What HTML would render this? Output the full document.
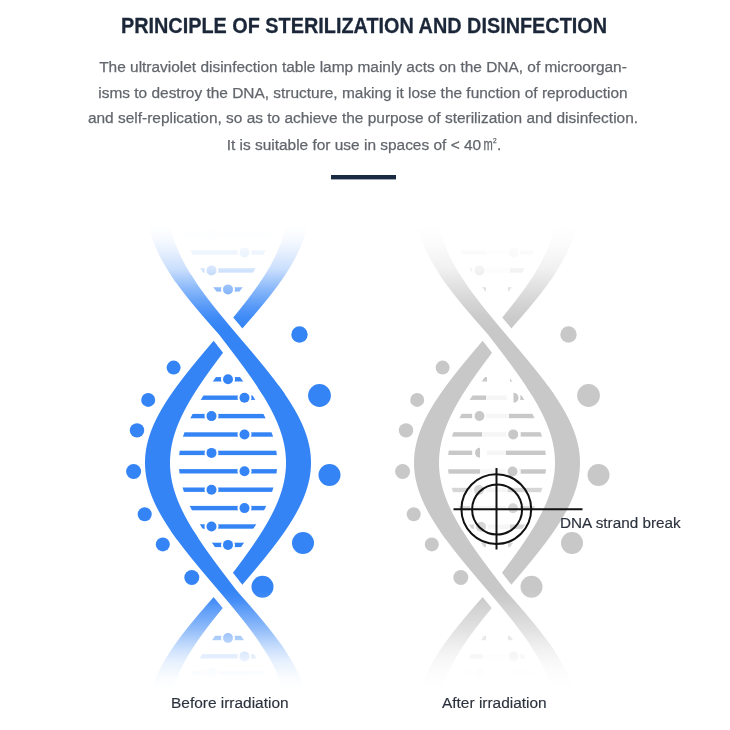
<!DOCTYPE html>
<html><head><meta charset="utf-8"><style>
html,body{margin:0;padding:0;background:#fff;}
body{width:730px;height:730px;position:relative;overflow:hidden;font-family:"Liberation Sans",sans-serif;}
.t{position:absolute;white-space:nowrap;left:0;width:730px;text-align:center;will-change:transform;}
#title{top:0.8px;left:-1px;font-weight:bold;font-size:19.85px;color:#1b2738;line-height:50px;transform:scaleY(1.07);transform-origin:50% 31.9px;-webkit-text-stroke:0.25px #1b2738;}
.p{font-size:15.45px;color:#62666c;line-height:20px;left:-2px;-webkit-text-stroke:0.25px #62666c;}
svg{position:absolute;left:0;top:0;}
.lab{position:absolute;white-space:nowrap;will-change:transform;font-size:15.45px;color:#2b323d;line-height:20px;-webkit-text-stroke:0.15px #2b323d;}
</style></head><body>
<svg width="730" height="730" viewBox="0 0 730 730">
<defs>
<linearGradient id="ft" gradientUnits="userSpaceOnUse" x1="0" y1="226" x2="0" y2="328">
<stop offset="0.0000" stop-color="#fff" stop-opacity="1.0000"/>
<stop offset="0.1373" stop-color="#fff" stop-opacity="0.9550"/>
<stop offset="0.2353" stop-color="#fff" stop-opacity="0.8900"/>
<stop offset="0.4216" stop-color="#fff" stop-opacity="0.7400"/>
<stop offset="0.6078" stop-color="#fff" stop-opacity="0.4400"/>
<stop offset="0.7745" stop-color="#fff" stop-opacity="0.2000"/>
<stop offset="0.9020" stop-color="#fff" stop-opacity="0.0500"/>
<stop offset="1.0000" stop-color="#fff" stop-opacity="0.0000"/>
</linearGradient>
<linearGradient id="fb" gradientUnits="userSpaceOnUse" x1="0" y1="590" x2="0" y2="690">
<stop offset="0.0000" stop-color="#fff" stop-opacity="0.0000"/>
<stop offset="0.1000" stop-color="#fff" stop-opacity="0.0700"/>
<stop offset="0.1700" stop-color="#fff" stop-opacity="0.1800"/>
<stop offset="0.3700" stop-color="#fff" stop-opacity="0.4300"/>
<stop offset="0.5400" stop-color="#fff" stop-opacity="0.6800"/>
<stop offset="0.6000" stop-color="#fff" stop-opacity="0.7600"/>
<stop offset="0.7000" stop-color="#fff" stop-opacity="0.8700"/>
<stop offset="0.8200" stop-color="#fff" stop-opacity="0.9500"/>
<stop offset="0.9200" stop-color="#fff" stop-opacity="0.9880"/>
<stop offset="1.0000" stop-color="#fff" stop-opacity="1.0000"/>
</linearGradient>
</defs>
<rect x="331" y="175" width="65" height="4.4" fill="#1a2a42"/>
<g opacity="0.3">
<rect x="161.71" y="232.40" width="132.59" height="4.4" fill="#3484f6"/>
<circle cx="211.50" cy="234.60" r="7.0" fill="#fff"/>
<circle cx="211.50" cy="234.60" r="5.0" fill="#3484f6"/>
</g>
<g opacity="0.6">
<rect x="168.47" y="250.20" width="119.07" height="4.4" fill="#3484f6"/>
<circle cx="244.50" cy="252.40" r="7.0" fill="#fff"/>
<circle cx="244.50" cy="252.40" r="5.0" fill="#3484f6"/>
</g>
<g opacity="0.8">
<rect x="178.16" y="268.20" width="99.67" height="4.4" fill="#3484f6"/>
<circle cx="211.50" cy="270.40" r="7.0" fill="#fff"/>
<circle cx="211.50" cy="270.40" r="5.0" fill="#3484f6"/>
</g>
<g opacity="0.92">
<rect x="191.01" y="287.20" width="73.98" height="4.4" fill="#3484f6"/>
<circle cx="228.00" cy="289.40" r="7.0" fill="#fff"/>
<circle cx="228.00" cy="289.40" r="5.0" fill="#3484f6"/>
</g>
<g opacity="1">
<rect x="192.83" y="377.10" width="70.33" height="4.4" fill="#3484f6"/>
<circle cx="228.00" cy="379.30" r="7.0" fill="#fff"/>
<circle cx="228.00" cy="379.30" r="5.0" fill="#3484f6"/>
</g>
<g opacity="1">
<rect x="180.23" y="395.50" width="95.54" height="4.4" fill="#3484f6"/>
<circle cx="244.50" cy="397.70" r="7.0" fill="#fff"/>
<circle cx="244.50" cy="397.70" r="5.0" fill="#3484f6"/>
</g>
<g opacity="1">
<rect x="169.74" y="413.90" width="116.52" height="4.4" fill="#3484f6"/>
<circle cx="211.50" cy="416.10" r="7.0" fill="#fff"/>
<circle cx="211.50" cy="416.10" r="5.0" fill="#3484f6"/>
</g>
<g opacity="1">
<rect x="162.14" y="432.30" width="131.73" height="4.4" fill="#3484f6"/>
<circle cx="244.50" cy="434.50" r="7.0" fill="#fff"/>
<circle cx="244.50" cy="434.50" r="5.0" fill="#3484f6"/>
</g>
<g opacity="1">
<rect x="158.07" y="450.70" width="139.85" height="4.4" fill="#3484f6"/>
<circle cx="211.50" cy="452.90" r="7.0" fill="#fff"/>
<circle cx="211.50" cy="452.90" r="5.0" fill="#3484f6"/>
</g>
<g opacity="1">
<rect x="157.93" y="469.10" width="140.14" height="4.4" fill="#3484f6"/>
<circle cx="244.50" cy="471.30" r="7.0" fill="#fff"/>
<circle cx="244.50" cy="471.30" r="5.0" fill="#3484f6"/>
</g>
<g opacity="1">
<rect x="161.73" y="487.50" width="132.55" height="4.4" fill="#3484f6"/>
<circle cx="211.50" cy="489.70" r="7.0" fill="#fff"/>
<circle cx="211.50" cy="489.70" r="5.0" fill="#3484f6"/>
</g>
<g opacity="1">
<rect x="169.10" y="505.90" width="117.80" height="4.4" fill="#3484f6"/>
<circle cx="244.50" cy="508.10" r="7.0" fill="#fff"/>
<circle cx="244.50" cy="508.10" r="5.0" fill="#3484f6"/>
</g>
<g opacity="1">
<rect x="179.41" y="524.30" width="97.18" height="4.4" fill="#3484f6"/>
<circle cx="211.50" cy="526.50" r="7.0" fill="#fff"/>
<circle cx="211.50" cy="526.50" r="5.0" fill="#3484f6"/>
</g>
<g opacity="1">
<rect x="191.89" y="542.70" width="72.22" height="4.4" fill="#3484f6"/>
<circle cx="228.00" cy="544.90" r="7.0" fill="#fff"/>
<circle cx="228.00" cy="544.90" r="5.0" fill="#3484f6"/>
</g>
<g opacity="1">
<rect x="189.62" y="635.80" width="76.76" height="4.4" fill="#3484f6"/>
<circle cx="228.00" cy="638.00" r="7.0" fill="#fff"/>
<circle cx="228.00" cy="638.00" r="5.0" fill="#3484f6"/>
</g>
<g opacity="0.8">
<rect x="177.38" y="654.20" width="101.25" height="4.4" fill="#3484f6"/>
<circle cx="244.50" cy="656.40" r="7.0" fill="#fff"/>
<circle cx="244.50" cy="656.40" r="5.0" fill="#3484f6"/>
</g>
<g opacity="0.45">
<rect x="168.51" y="670.80" width="118.98" height="4.4" fill="#3484f6"/>
<circle cx="211.50" cy="673.00" r="7.0" fill="#fff"/>
<circle cx="211.50" cy="673.00" r="5.0" fill="#3484f6"/>
</g>
<path d="M286.47,222.00 L286.13,224.00 L285.75,226.00 L285.32,228.00 L284.86,230.00 L284.36,232.00 L283.82,234.00 L283.24,236.00 L282.62,238.00 L281.96,240.00 L281.26,242.00 L280.53,244.00 L279.76,246.00 L278.96,248.00 L278.11,250.00 L277.24,252.00 L276.32,254.00 L275.38,256.00 L274.40,258.00 L273.38,260.00 L272.34,262.00 L271.26,264.00 L270.15,266.00 L269.01,268.00 L267.84,270.00 L266.64,272.00 L265.41,274.00 L264.15,276.00 L262.87,278.00 L261.56,280.00 L260.22,282.00 L258.86,284.00 L257.48,286.00 L256.07,288.00 L254.64,290.00 L253.19,292.00 L251.72,294.00 L250.23,296.00 L248.72,298.00 L247.19,300.00 L245.65,302.00 L244.09,304.00 L242.51,306.00 L240.92,308.00 L239.32,310.00 L237.71,312.00 L236.08,314.00 L234.44,316.00 L232.80,318.00 L231.15,320.00 L229.48,322.00 L227.82,324.00 L226.14,326.00 L224.47,328.00 L222.79,330.00 L221.10,332.00 L219.42,334.00 L217.72,336.00 L216.01,338.00 L214.30,340.00 L212.60,342.00 L210.89,344.00 L209.19,346.00 L207.50,348.00 L205.81,350.00 L204.12,352.00 L202.44,354.00 L200.76,356.00 L199.10,358.00 L197.44,360.00 L195.79,362.00 L194.15,364.00 L192.52,366.00 L190.90,368.00 L189.29,370.00 L187.70,372.00 L186.12,374.00 L184.56,376.00 L183.01,378.00 L181.47,380.00 L179.96,382.00 L178.46,384.00 L176.98,386.00 L175.53,388.00 L174.09,390.00 L172.68,392.00 L171.29,394.00 L169.92,396.00 L168.58,398.00 L167.27,400.00 L165.98,402.00 L164.73,404.00 L163.50,406.00 L162.30,408.00 L161.14,410.00 L160.01,412.00 L158.91,414.00 L157.85,416.00 L156.82,418.00 L155.83,420.00 L154.88,422.00 L153.96,424.00 L153.09,426.00 L152.26,428.00 L151.47,430.00 L150.72,432.00 L150.01,434.00 L149.35,436.00 L148.73,438.00 L148.16,440.00 L147.64,442.00 L147.16,444.00 L146.72,446.00 L146.34,448.00 L146.00,450.00 L145.71,452.00 L145.47,454.00 L145.28,456.00 L145.14,458.00 L145.05,460.00 L145.00,462.00 L145.01,464.00 L145.07,466.00 L145.17,468.00 L145.32,470.00 L145.53,472.00 L145.78,474.00 L146.08,476.00 L146.43,478.00 L146.83,480.00 L147.27,482.00 L147.76,484.00 L148.30,486.00 L148.88,488.00 L149.51,490.00 L150.19,492.00 L150.90,494.00 L151.66,496.00 L152.46,498.00 L153.31,500.00 L154.19,502.00 L155.11,504.00 L156.07,506.00 L157.07,508.00 L158.11,510.00 L159.18,512.00 L160.29,514.00 L161.43,516.00 L162.60,518.00 L163.80,520.00 L165.04,522.00 L166.30,524.00 L167.60,526.00 L168.92,528.00 L170.26,530.00 L171.63,532.00 L173.03,534.00 L174.45,536.00 L175.89,538.00 L177.35,540.00 L178.83,542.00 L180.34,544.00 L181.86,546.00 L183.39,548.00 L184.95,550.00 L186.52,552.00 L188.10,554.00 L189.70,556.00 L191.30,558.00 L192.93,560.00 L194.56,562.00 L196.20,564.00 L197.85,566.00 L199.51,568.00 L201.18,570.00 L202.86,572.00 L204.54,574.00 L206.23,576.00 L207.92,578.00 L209.62,580.00 L211.32,582.00 L213.02,584.00 L214.73,586.00 L216.44,588.00 L218.15,590.00 L219.84,592.00 L221.53,594.00 L223.21,596.00 L224.89,598.00 L226.56,600.00 L228.23,602.00 L229.90,604.00 L231.56,606.00 L233.21,608.00 L234.85,610.00 L236.49,612.00 L238.11,614.00 L239.72,616.00 L241.32,618.00 L242.91,620.00 L244.48,622.00 L246.04,624.00 L247.58,626.00 L249.10,628.00 L250.61,630.00 L252.09,632.00 L253.56,634.00 L255.00,636.00 L256.43,638.00 L257.83,640.00 L259.21,642.00 L260.56,644.00 L261.89,646.00 L263.19,648.00 L264.47,650.00 L265.72,652.00 L266.94,654.00 L268.13,656.00 L269.29,658.00 L270.43,660.00 L271.53,662.00 L272.60,664.00 L273.64,666.00 L274.64,668.00 L275.62,670.00 L276.56,672.00 L277.46,674.00 L278.33,676.00 L279.16,678.00 L279.96,680.00 L280.72,682.00 L281.44,684.00 L282.13,686.00 L282.78,688.00 L283.39,690.00 L304.66,690.00 L304.02,688.00 L303.34,686.00 L302.62,684.00 L301.86,682.00 L301.06,680.00 L300.22,678.00 L299.35,676.00 L298.44,674.00 L297.49,672.00 L296.50,670.00 L295.48,668.00 L294.42,666.00 L293.33,664.00 L292.20,662.00 L291.05,660.00 L289.86,658.00 L288.63,656.00 L287.38,654.00 L286.10,652.00 L284.78,650.00 L283.44,648.00 L282.07,646.00 L280.68,644.00 L279.25,642.00 L277.80,640.00 L276.33,638.00 L274.84,636.00 L273.32,634.00 L271.78,632.00 L270.21,630.00 L268.63,628.00 L267.03,626.00 L265.41,624.00 L263.78,622.00 L262.13,620.00 L260.46,618.00 L258.78,616.00 L257.08,614.00 L255.38,612.00 L253.66,610.00 L251.94,608.00 L250.20,606.00 L248.46,604.00 L246.70,602.00 L244.95,600.00 L243.19,598.00 L241.42,596.00 L239.65,594.00 L237.88,592.00 L236.23,590.00 L234.69,588.00 L233.16,586.00 L231.62,584.00 L230.09,582.00 L228.56,580.00 L227.03,578.00 L225.51,576.00 L223.99,574.00 L222.47,572.00 L220.96,570.00 L219.46,568.00 L217.96,566.00 L216.47,564.00 L214.99,562.00 L213.52,560.00 L212.06,558.00 L210.60,556.00 L209.16,554.00 L207.73,552.00 L206.32,550.00 L204.91,548.00 L203.52,546.00 L202.15,544.00 L200.79,542.00 L199.45,540.00 L198.12,538.00 L196.82,536.00 L195.53,534.00 L194.26,532.00 L193.02,530.00 L191.80,528.00 L190.60,526.00 L189.42,524.00 L188.27,522.00 L187.15,520.00 L186.06,518.00 L184.99,516.00 L183.95,514.00 L182.95,512.00 L181.97,510.00 L181.03,508.00 L180.11,506.00 L179.24,504.00 L178.40,502.00 L177.59,500.00 L176.82,498.00 L176.09,496.00 L175.40,494.00 L174.74,492.00 L174.13,490.00 L173.55,488.00 L173.02,486.00 L172.53,484.00 L172.08,482.00 L171.67,480.00 L171.31,478.00 L170.99,476.00 L170.71,474.00 L170.48,472.00 L170.30,470.00 L170.16,468.00 L170.06,466.00 L170.01,464.00 L170.00,462.00 L170.04,460.00 L170.13,458.00 L170.26,456.00 L170.43,454.00 L170.65,452.00 L170.92,450.00 L171.22,448.00 L171.58,446.00 L171.97,444.00 L172.41,442.00 L172.89,440.00 L173.41,438.00 L173.98,436.00 L174.58,434.00 L175.23,432.00 L175.91,430.00 L176.63,428.00 L177.39,426.00 L178.19,424.00 L179.02,422.00 L179.89,420.00 L180.79,418.00 L181.73,416.00 L182.70,414.00 L183.70,412.00 L184.73,410.00 L185.79,408.00 L186.88,406.00 L187.99,404.00 L189.13,402.00 L190.30,400.00 L191.49,398.00 L192.71,396.00 L193.95,394.00 L195.21,392.00 L196.49,390.00 L197.79,388.00 L199.11,386.00 L200.45,384.00 L201.81,382.00 L203.18,380.00 L204.56,378.00 L205.96,376.00 L207.38,374.00 L208.80,372.00 L210.24,370.00 L211.69,368.00 L213.15,366.00 L214.62,364.00 L216.10,362.00 L217.59,360.00 L219.08,358.00 L220.59,356.00 L222.09,354.00 L223.61,352.00 L225.13,350.00 L226.65,348.00 L228.18,346.00 L229.71,344.00 L231.24,342.00 L232.77,340.00 L234.31,338.00 L235.85,336.00 L237.44,334.00 L239.21,332.00 L240.98,330.00 L242.75,328.00 L244.51,326.00 L246.27,324.00 L248.02,322.00 L249.76,320.00 L251.50,318.00 L253.23,316.00 L254.95,314.00 L256.66,312.00 L258.36,310.00 L260.04,308.00 L261.71,306.00 L263.37,304.00 L265.01,302.00 L266.63,300.00 L268.23,298.00 L269.82,296.00 L271.39,294.00 L272.93,292.00 L274.46,290.00 L275.96,288.00 L277.44,286.00 L278.89,284.00 L280.32,282.00 L281.73,280.00 L283.10,278.00 L284.45,276.00 L285.77,274.00 L287.06,272.00 L288.32,270.00 L289.55,268.00 L290.75,266.00 L291.92,264.00 L293.05,262.00 L294.15,260.00 L295.22,258.00 L296.25,256.00 L297.24,254.00 L298.20,252.00 L299.12,250.00 L300.01,248.00 L300.86,246.00 L301.66,244.00 L302.43,242.00 L303.16,240.00 L303.86,238.00 L304.51,236.00 L305.12,234.00 L305.69,232.00 L306.21,230.00 L306.70,228.00 L307.15,226.00 L307.55,224.00 L307.91,222.00Z" fill="none" stroke="#fff" stroke-width="17.6" stroke-linejoin="round"/>
<path d="M148.09,222.00 L148.45,224.00 L148.85,226.00 L149.30,228.00 L149.79,230.00 L150.31,232.00 L150.88,234.00 L151.49,236.00 L152.14,238.00 L152.84,240.00 L153.57,242.00 L154.34,244.00 L155.14,246.00 L155.99,248.00 L156.88,250.00 L157.80,252.00 L158.76,254.00 L159.75,256.00 L160.78,258.00 L161.85,260.00 L162.95,262.00 L164.08,264.00 L165.25,266.00 L166.45,268.00 L167.68,270.00 L168.94,272.00 L170.23,274.00 L171.55,276.00 L172.90,278.00 L174.27,280.00 L175.68,282.00 L177.11,284.00 L178.56,286.00 L180.04,288.00 L181.54,290.00 L183.07,292.00 L184.61,294.00 L186.18,296.00 L187.77,298.00 L189.37,300.00 L190.99,302.00 L192.63,304.00 L194.29,306.00 L195.96,308.00 L197.64,310.00 L199.34,312.00 L201.05,314.00 L202.77,316.00 L204.50,318.00 L206.24,320.00 L207.98,322.00 L209.73,324.00 L211.49,326.00 L213.25,328.00 L215.02,330.00 L216.79,332.00 L218.56,334.00 L220.15,336.00 L221.69,338.00 L223.23,340.00 L224.76,342.00 L226.29,344.00 L227.82,346.00 L229.35,348.00 L230.87,350.00 L232.39,352.00 L233.91,354.00 L235.41,356.00 L236.92,358.00 L238.41,360.00 L239.90,362.00 L241.38,364.00 L242.85,366.00 L244.31,368.00 L245.76,370.00 L247.20,372.00 L248.62,374.00 L250.04,376.00 L251.44,378.00 L252.82,380.00 L254.19,382.00 L255.55,384.00 L256.89,386.00 L258.21,388.00 L259.51,390.00 L260.79,392.00 L262.05,394.00 L263.29,396.00 L264.51,398.00 L265.70,400.00 L266.87,402.00 L268.01,404.00 L269.12,406.00 L270.21,408.00 L271.27,410.00 L272.30,412.00 L273.30,414.00 L274.27,416.00 L275.21,418.00 L276.11,420.00 L276.98,422.00 L277.81,424.00 L278.61,426.00 L279.37,428.00 L280.09,430.00 L280.77,432.00 L281.42,434.00 L282.02,436.00 L282.59,438.00 L283.11,440.00 L283.59,442.00 L284.03,444.00 L284.42,446.00 L284.78,448.00 L285.08,450.00 L285.35,452.00 L285.57,454.00 L285.74,456.00 L285.87,458.00 L285.96,460.00 L286.00,462.00 L285.99,464.00 L285.94,466.00 L285.84,468.00 L285.70,470.00 L285.52,472.00 L285.29,474.00 L285.01,476.00 L284.69,478.00 L284.33,480.00 L283.92,482.00 L283.47,484.00 L282.98,486.00 L282.45,488.00 L281.87,490.00 L281.26,492.00 L280.60,494.00 L279.91,496.00 L279.18,498.00 L278.41,500.00 L277.60,502.00 L276.76,504.00 L275.89,506.00 L274.97,508.00 L274.03,510.00 L273.05,512.00 L272.05,514.00 L271.01,516.00 L269.94,518.00 L268.85,520.00 L267.73,522.00 L266.58,524.00 L265.40,526.00 L264.20,528.00 L262.98,530.00 L261.74,532.00 L260.47,534.00 L259.18,536.00 L257.88,538.00 L256.55,540.00 L255.21,542.00 L253.85,544.00 L252.48,546.00 L251.09,548.00 L249.68,550.00 L248.27,552.00 L246.84,554.00 L245.40,556.00 L243.94,558.00 L242.48,560.00 L241.01,562.00 L239.53,564.00 L238.04,566.00 L236.54,568.00 L235.04,570.00 L233.53,572.00 L232.01,574.00 L230.49,576.00 L228.97,578.00 L227.44,580.00 L225.91,582.00 L224.38,584.00 L222.84,586.00 L221.31,588.00 L219.77,590.00 L218.12,592.00 L216.35,594.00 L214.58,596.00 L212.81,598.00 L211.05,600.00 L209.30,602.00 L207.54,604.00 L205.80,606.00 L204.06,608.00 L202.34,610.00 L200.62,612.00 L198.92,614.00 L197.22,616.00 L195.54,618.00 L193.87,620.00 L192.22,622.00 L190.59,624.00 L188.97,626.00 L187.37,628.00 L185.79,630.00 L184.22,632.00 L182.68,634.00 L181.16,636.00 L179.67,638.00 L178.20,640.00 L176.75,642.00 L175.32,644.00 L173.93,646.00 L172.56,648.00 L171.22,650.00 L169.90,652.00 L168.62,654.00 L167.37,656.00 L166.14,658.00 L164.95,660.00 L163.80,662.00 L162.67,664.00 L161.58,666.00 L160.52,668.00 L159.50,670.00 L158.51,672.00 L157.56,674.00 L156.65,676.00 L155.78,678.00 L154.94,680.00 L154.14,682.00 L153.38,684.00 L152.66,686.00 L151.98,688.00 L151.34,690.00 L172.61,690.00 L173.22,688.00 L173.87,686.00 L174.56,684.00 L175.28,682.00 L176.04,680.00 L176.84,678.00 L177.67,676.00 L178.54,674.00 L179.44,672.00 L180.38,670.00 L181.36,668.00 L182.36,666.00 L183.40,664.00 L184.47,662.00 L185.57,660.00 L186.71,658.00 L187.87,656.00 L189.06,654.00 L190.28,652.00 L191.53,650.00 L192.81,648.00 L194.11,646.00 L195.44,644.00 L196.79,642.00 L198.17,640.00 L199.57,638.00 L201.00,636.00 L202.44,634.00 L203.91,632.00 L205.39,630.00 L206.90,628.00 L208.42,626.00 L209.96,624.00 L211.52,622.00 L213.09,620.00 L214.68,618.00 L216.28,616.00 L217.89,614.00 L219.51,612.00 L221.15,610.00 L222.79,608.00 L224.44,606.00 L226.10,604.00 L227.77,602.00 L229.44,600.00 L231.11,598.00 L232.79,596.00 L234.47,594.00 L236.16,592.00 L237.85,590.00 L239.56,588.00 L241.27,586.00 L242.98,584.00 L244.68,582.00 L246.38,580.00 L248.08,578.00 L249.77,576.00 L251.46,574.00 L253.14,572.00 L254.82,570.00 L256.49,568.00 L258.15,566.00 L259.80,564.00 L261.44,562.00 L263.07,560.00 L264.70,558.00 L266.30,556.00 L267.90,554.00 L269.48,552.00 L271.05,550.00 L272.61,548.00 L274.14,546.00 L275.66,544.00 L277.17,542.00 L278.65,540.00 L280.11,538.00 L281.55,536.00 L282.97,534.00 L284.37,532.00 L285.74,530.00 L287.08,528.00 L288.40,526.00 L289.70,524.00 L290.96,522.00 L292.20,520.00 L293.40,518.00 L294.57,516.00 L295.71,514.00 L296.82,512.00 L297.89,510.00 L298.93,508.00 L299.93,506.00 L300.89,504.00 L301.81,502.00 L302.69,500.00 L303.54,498.00 L304.34,496.00 L305.10,494.00 L305.81,492.00 L306.49,490.00 L307.12,488.00 L307.70,486.00 L308.24,484.00 L308.73,482.00 L309.17,480.00 L309.57,478.00 L309.92,476.00 L310.22,474.00 L310.47,472.00 L310.68,470.00 L310.83,468.00 L310.93,466.00 L310.99,464.00 L311.00,462.00 L310.95,460.00 L310.86,458.00 L310.72,456.00 L310.53,454.00 L310.29,452.00 L310.00,450.00 L309.66,448.00 L309.28,446.00 L308.84,444.00 L308.36,442.00 L307.84,440.00 L307.27,438.00 L306.65,436.00 L305.99,434.00 L305.28,432.00 L304.53,430.00 L303.74,428.00 L302.91,426.00 L302.04,424.00 L301.12,422.00 L300.17,420.00 L299.18,418.00 L298.15,416.00 L297.09,414.00 L295.99,412.00 L294.86,410.00 L293.70,408.00 L292.50,406.00 L291.27,404.00 L290.02,402.00 L288.73,400.00 L287.42,398.00 L286.08,396.00 L284.71,394.00 L283.32,392.00 L281.91,390.00 L280.47,388.00 L279.02,386.00 L277.54,384.00 L276.04,382.00 L274.53,380.00 L272.99,378.00 L271.44,376.00 L269.88,374.00 L268.30,372.00 L266.71,370.00 L265.10,368.00 L263.48,366.00 L261.85,364.00 L260.21,362.00 L258.56,360.00 L256.90,358.00 L255.24,356.00 L253.56,354.00 L251.88,352.00 L250.19,350.00 L248.50,348.00 L246.81,346.00 L245.11,344.00 L243.40,342.00 L241.70,340.00 L239.99,338.00 L238.28,336.00 L236.58,334.00 L234.90,332.00 L233.21,330.00 L231.53,328.00 L229.86,326.00 L228.18,324.00 L226.52,322.00 L224.85,320.00 L223.20,318.00 L221.56,316.00 L219.92,314.00 L218.29,312.00 L216.68,310.00 L215.08,308.00 L213.49,306.00 L211.91,304.00 L210.35,302.00 L208.81,300.00 L207.28,298.00 L205.77,296.00 L204.28,294.00 L202.81,292.00 L201.36,290.00 L199.93,288.00 L198.52,286.00 L197.14,284.00 L195.78,282.00 L194.44,280.00 L193.13,278.00 L191.85,276.00 L190.59,274.00 L189.36,272.00 L188.16,270.00 L186.99,268.00 L185.85,266.00 L184.74,264.00 L183.66,262.00 L182.62,260.00 L181.60,258.00 L180.62,256.00 L179.68,254.00 L178.76,252.00 L177.89,250.00 L177.04,248.00 L176.24,246.00 L175.47,244.00 L174.74,242.00 L174.04,240.00 L173.38,238.00 L172.76,236.00 L172.18,234.00 L171.64,232.00 L171.14,230.00 L170.68,228.00 L170.25,226.00 L169.87,224.00 L169.53,222.00Z" fill="none" stroke="#fff" stroke-width="17.6" stroke-linejoin="round"/>
<path d="M286.47,222.00 L286.13,224.00 L285.75,226.00 L285.32,228.00 L284.86,230.00 L284.36,232.00 L283.82,234.00 L283.24,236.00 L282.62,238.00 L281.96,240.00 L281.26,242.00 L280.53,244.00 L279.76,246.00 L278.96,248.00 L278.11,250.00 L277.24,252.00 L276.32,254.00 L275.38,256.00 L274.40,258.00 L273.38,260.00 L272.34,262.00 L271.26,264.00 L270.15,266.00 L269.01,268.00 L267.84,270.00 L266.64,272.00 L265.41,274.00 L264.15,276.00 L262.87,278.00 L261.56,280.00 L260.22,282.00 L258.86,284.00 L257.48,286.00 L256.07,288.00 L254.64,290.00 L253.19,292.00 L251.72,294.00 L250.23,296.00 L248.72,298.00 L247.19,300.00 L245.65,302.00 L244.09,304.00 L242.51,306.00 L240.92,308.00 L239.32,310.00 L237.71,312.00 L236.08,314.00 L234.44,316.00 L232.80,318.00 L231.15,320.00 L229.48,322.00 L227.82,324.00 L226.14,326.00 L224.47,328.00 L222.79,330.00 L221.10,332.00 L219.42,334.00 L237.44,334.00 L239.21,332.00 L240.98,330.00 L242.75,328.00 L244.51,326.00 L246.27,324.00 L248.02,322.00 L249.76,320.00 L251.50,318.00 L253.23,316.00 L254.95,314.00 L256.66,312.00 L258.36,310.00 L260.04,308.00 L261.71,306.00 L263.37,304.00 L265.01,302.00 L266.63,300.00 L268.23,298.00 L269.82,296.00 L271.39,294.00 L272.93,292.00 L274.46,290.00 L275.96,288.00 L277.44,286.00 L278.89,284.00 L280.32,282.00 L281.73,280.00 L283.10,278.00 L284.45,276.00 L285.77,274.00 L287.06,272.00 L288.32,270.00 L289.55,268.00 L290.75,266.00 L291.92,264.00 L293.05,262.00 L294.15,260.00 L295.22,258.00 L296.25,256.00 L297.24,254.00 L298.20,252.00 L299.12,250.00 L300.01,248.00 L300.86,246.00 L301.66,244.00 L302.43,242.00 L303.16,240.00 L303.86,238.00 L304.51,236.00 L305.12,234.00 L305.69,232.00 L306.21,230.00 L306.70,228.00 L307.15,226.00 L307.55,224.00 L307.91,222.00Z" fill="none" stroke="#fff" stroke-width="22.6" stroke-linejoin="round"/>
<path d="M219.00,591.00 L220.68,593.00 L222.37,595.00 L224.05,597.00 L225.73,599.00 L227.40,601.00 L229.07,603.00 L230.73,605.00 L232.39,607.00 L234.03,609.00 L235.67,611.00 L237.30,613.00 L238.92,615.00 L240.53,617.00 L242.12,619.00 L243.70,621.00 L245.26,623.00 L246.81,625.00 L248.34,627.00 L249.85,629.00 L251.35,631.00 L252.83,633.00 L254.28,635.00 L255.72,637.00 L257.13,639.00 L258.52,641.00 L259.89,643.00 L261.23,645.00 L262.54,647.00 L263.83,649.00 L265.10,651.00 L266.33,653.00 L267.54,655.00 L268.72,657.00 L269.87,659.00 L270.98,661.00 L272.07,663.00 L273.12,665.00 L274.15,667.00 L275.13,669.00 L276.09,671.00 L277.01,673.00 L277.90,675.00 L278.75,677.00 L279.56,679.00 L280.34,681.00 L281.08,683.00 L281.79,685.00 L282.46,687.00 L283.09,689.00 L304.35,689.00 L303.69,687.00 L302.99,685.00 L302.25,683.00 L301.47,681.00 L300.65,679.00 L299.79,677.00 L298.90,675.00 L297.96,673.00 L297.00,671.00 L295.99,669.00 L294.95,667.00 L293.88,665.00 L292.77,663.00 L291.63,661.00 L290.45,659.00 L289.25,657.00 L288.01,655.00 L286.74,653.00 L285.44,651.00 L284.12,649.00 L282.76,647.00 L281.38,645.00 L279.97,643.00 L278.53,641.00 L277.07,639.00 L275.59,637.00 L274.08,635.00 L272.55,633.00 L271.00,631.00 L269.43,629.00 L267.83,627.00 L266.22,625.00 L264.60,623.00 L262.95,621.00 L261.29,619.00 L259.62,617.00 L257.93,615.00 L256.23,613.00 L254.52,611.00 L252.80,609.00 L251.07,607.00 L249.33,605.00 L247.58,603.00 L245.83,601.00 L244.07,599.00 L242.30,597.00 L240.54,595.00 L238.77,593.00 L237.00,591.00Z" fill="none" stroke="#fff" stroke-width="22.6" stroke-linejoin="round"/>
<path d="M148.09,222.00 L148.45,224.00 L148.85,226.00 L149.30,228.00 L149.79,230.00 L150.31,232.00 L150.88,234.00 L151.49,236.00 L152.14,238.00 L152.84,240.00 L153.57,242.00 L154.34,244.00 L155.14,246.00 L155.99,248.00 L156.88,250.00 L157.80,252.00 L158.76,254.00 L159.75,256.00 L160.78,258.00 L161.85,260.00 L162.95,262.00 L164.08,264.00 L165.25,266.00 L166.45,268.00 L167.68,270.00 L168.94,272.00 L170.23,274.00 L171.55,276.00 L172.90,278.00 L174.27,280.00 L175.68,282.00 L177.11,284.00 L178.56,286.00 L180.04,288.00 L181.54,290.00 L183.07,292.00 L184.61,294.00 L186.18,296.00 L187.77,298.00 L189.37,300.00 L190.99,302.00 L192.63,304.00 L194.29,306.00 L195.96,308.00 L197.64,310.00 L199.34,312.00 L201.05,314.00 L202.77,316.00 L204.50,318.00 L206.24,320.00 L207.98,322.00 L209.73,324.00 L211.49,326.00 L213.25,328.00 L215.02,330.00 L216.79,332.00 L218.56,334.00 L236.58,334.00 L234.90,332.00 L233.21,330.00 L231.53,328.00 L229.86,326.00 L228.18,324.00 L226.52,322.00 L224.85,320.00 L223.20,318.00 L221.56,316.00 L219.92,314.00 L218.29,312.00 L216.68,310.00 L215.08,308.00 L213.49,306.00 L211.91,304.00 L210.35,302.00 L208.81,300.00 L207.28,298.00 L205.77,296.00 L204.28,294.00 L202.81,292.00 L201.36,290.00 L199.93,288.00 L198.52,286.00 L197.14,284.00 L195.78,282.00 L194.44,280.00 L193.13,278.00 L191.85,276.00 L190.59,274.00 L189.36,272.00 L188.16,270.00 L186.99,268.00 L185.85,266.00 L184.74,264.00 L183.66,262.00 L182.62,260.00 L181.60,258.00 L180.62,256.00 L179.68,254.00 L178.76,252.00 L177.89,250.00 L177.04,248.00 L176.24,246.00 L175.47,244.00 L174.74,242.00 L174.04,240.00 L173.38,238.00 L172.76,236.00 L172.18,234.00 L171.64,232.00 L171.14,230.00 L170.68,228.00 L170.25,226.00 L169.87,224.00 L169.53,222.00Z" fill="none" stroke="#fff" stroke-width="22.6" stroke-linejoin="round"/>
<path d="M219.00,591.00 L217.23,593.00 L215.46,595.00 L213.70,597.00 L211.93,599.00 L210.17,601.00 L208.42,603.00 L206.67,605.00 L204.93,607.00 L203.20,609.00 L201.48,611.00 L199.77,613.00 L198.07,615.00 L196.38,617.00 L194.71,619.00 L193.05,621.00 L191.40,623.00 L189.78,625.00 L188.17,627.00 L186.57,629.00 L185.00,631.00 L183.45,633.00 L181.92,635.00 L180.41,637.00 L178.93,639.00 L177.47,641.00 L176.03,643.00 L174.62,645.00 L173.24,647.00 L171.88,649.00 L170.56,651.00 L169.26,653.00 L167.99,655.00 L166.75,657.00 L165.55,659.00 L164.37,661.00 L163.23,663.00 L162.12,665.00 L161.05,667.00 L160.01,669.00 L159.00,671.00 L158.04,673.00 L157.10,675.00 L156.21,677.00 L155.35,679.00 L154.53,681.00 L153.75,683.00 L153.01,685.00 L152.31,687.00 L151.65,689.00 L172.91,689.00 L173.54,687.00 L174.21,685.00 L174.92,683.00 L175.66,681.00 L176.44,679.00 L177.25,677.00 L178.10,675.00 L178.99,673.00 L179.91,671.00 L180.87,669.00 L181.85,667.00 L182.88,665.00 L183.93,663.00 L185.02,661.00 L186.13,659.00 L187.28,657.00 L188.46,655.00 L189.67,653.00 L190.90,651.00 L192.17,649.00 L193.46,647.00 L194.77,645.00 L196.11,643.00 L197.48,641.00 L198.87,639.00 L200.28,637.00 L201.72,635.00 L203.17,633.00 L204.65,631.00 L206.15,629.00 L207.66,627.00 L209.19,625.00 L210.74,623.00 L212.30,621.00 L213.88,619.00 L215.47,617.00 L217.08,615.00 L218.70,613.00 L220.33,611.00 L221.97,609.00 L223.61,607.00 L225.27,605.00 L226.93,603.00 L228.60,601.00 L230.27,599.00 L231.95,597.00 L233.63,595.00 L235.32,593.00 L237.00,591.00Z" fill="none" stroke="#fff" stroke-width="22.6" stroke-linejoin="round"/>
<path d="M286.47,222.00 L286.13,224.00 L285.75,226.00 L285.32,228.00 L284.86,230.00 L284.36,232.00 L283.82,234.00 L283.24,236.00 L282.62,238.00 L281.96,240.00 L281.26,242.00 L280.53,244.00 L279.76,246.00 L278.96,248.00 L278.11,250.00 L277.24,252.00 L276.32,254.00 L275.38,256.00 L274.40,258.00 L273.38,260.00 L272.34,262.00 L271.26,264.00 L270.15,266.00 L269.01,268.00 L267.84,270.00 L266.64,272.00 L265.41,274.00 L264.15,276.00 L262.87,278.00 L261.56,280.00 L260.22,282.00 L258.86,284.00 L257.48,286.00 L256.07,288.00 L254.64,290.00 L253.19,292.00 L251.72,294.00 L250.23,296.00 L248.72,298.00 L247.19,300.00 L245.65,302.00 L244.09,304.00 L242.51,306.00 L240.92,308.00 L239.32,310.00 L237.71,312.00 L236.08,314.00 L234.44,316.00 L232.80,318.00 L231.15,320.00 L229.48,322.00 L227.82,324.00 L226.14,326.00 L224.47,328.00 L222.79,330.00 L221.10,332.00 L219.42,334.00 L217.72,336.00 L216.01,338.00 L214.30,340.00 L212.60,342.00 L210.89,344.00 L209.19,346.00 L207.50,348.00 L205.81,350.00 L204.12,352.00 L202.44,354.00 L200.76,356.00 L199.10,358.00 L197.44,360.00 L195.79,362.00 L194.15,364.00 L192.52,366.00 L190.90,368.00 L189.29,370.00 L187.70,372.00 L186.12,374.00 L184.56,376.00 L183.01,378.00 L181.47,380.00 L179.96,382.00 L178.46,384.00 L176.98,386.00 L175.53,388.00 L174.09,390.00 L172.68,392.00 L171.29,394.00 L169.92,396.00 L168.58,398.00 L167.27,400.00 L165.98,402.00 L164.73,404.00 L163.50,406.00 L162.30,408.00 L161.14,410.00 L160.01,412.00 L158.91,414.00 L157.85,416.00 L156.82,418.00 L155.83,420.00 L154.88,422.00 L153.96,424.00 L153.09,426.00 L152.26,428.00 L151.47,430.00 L150.72,432.00 L150.01,434.00 L149.35,436.00 L148.73,438.00 L148.16,440.00 L147.64,442.00 L147.16,444.00 L146.72,446.00 L146.34,448.00 L146.00,450.00 L145.71,452.00 L145.47,454.00 L145.28,456.00 L145.14,458.00 L145.05,460.00 L145.00,462.00 L145.01,464.00 L145.07,466.00 L145.17,468.00 L145.32,470.00 L145.53,472.00 L145.78,474.00 L146.08,476.00 L146.43,478.00 L146.83,480.00 L147.27,482.00 L147.76,484.00 L148.30,486.00 L148.88,488.00 L149.51,490.00 L150.19,492.00 L150.90,494.00 L151.66,496.00 L152.46,498.00 L153.31,500.00 L154.19,502.00 L155.11,504.00 L156.07,506.00 L157.07,508.00 L158.11,510.00 L159.18,512.00 L160.29,514.00 L161.43,516.00 L162.60,518.00 L163.80,520.00 L165.04,522.00 L166.30,524.00 L167.60,526.00 L168.92,528.00 L170.26,530.00 L171.63,532.00 L173.03,534.00 L174.45,536.00 L175.89,538.00 L177.35,540.00 L178.83,542.00 L180.34,544.00 L181.86,546.00 L183.39,548.00 L184.95,550.00 L186.52,552.00 L188.10,554.00 L189.70,556.00 L191.30,558.00 L192.93,560.00 L194.56,562.00 L196.20,564.00 L197.85,566.00 L199.51,568.00 L201.18,570.00 L202.86,572.00 L204.54,574.00 L206.23,576.00 L207.92,578.00 L209.62,580.00 L211.32,582.00 L213.02,584.00 L214.73,586.00 L216.44,588.00 L218.15,590.00 L219.84,592.00 L221.53,594.00 L223.21,596.00 L224.89,598.00 L226.56,600.00 L228.23,602.00 L229.90,604.00 L231.56,606.00 L233.21,608.00 L234.85,610.00 L236.49,612.00 L238.11,614.00 L239.72,616.00 L241.32,618.00 L242.91,620.00 L244.48,622.00 L246.04,624.00 L247.58,626.00 L249.10,628.00 L250.61,630.00 L252.09,632.00 L253.56,634.00 L255.00,636.00 L256.43,638.00 L257.83,640.00 L259.21,642.00 L260.56,644.00 L261.89,646.00 L263.19,648.00 L264.47,650.00 L265.72,652.00 L266.94,654.00 L268.13,656.00 L269.29,658.00 L270.43,660.00 L271.53,662.00 L272.60,664.00 L273.64,666.00 L274.64,668.00 L275.62,670.00 L276.56,672.00 L277.46,674.00 L278.33,676.00 L279.16,678.00 L279.96,680.00 L280.72,682.00 L281.44,684.00 L282.13,686.00 L282.78,688.00 L283.39,690.00 L304.66,690.00 L304.02,688.00 L303.34,686.00 L302.62,684.00 L301.86,682.00 L301.06,680.00 L300.22,678.00 L299.35,676.00 L298.44,674.00 L297.49,672.00 L296.50,670.00 L295.48,668.00 L294.42,666.00 L293.33,664.00 L292.20,662.00 L291.05,660.00 L289.86,658.00 L288.63,656.00 L287.38,654.00 L286.10,652.00 L284.78,650.00 L283.44,648.00 L282.07,646.00 L280.68,644.00 L279.25,642.00 L277.80,640.00 L276.33,638.00 L274.84,636.00 L273.32,634.00 L271.78,632.00 L270.21,630.00 L268.63,628.00 L267.03,626.00 L265.41,624.00 L263.78,622.00 L262.13,620.00 L260.46,618.00 L258.78,616.00 L257.08,614.00 L255.38,612.00 L253.66,610.00 L251.94,608.00 L250.20,606.00 L248.46,604.00 L246.70,602.00 L244.95,600.00 L243.19,598.00 L241.42,596.00 L239.65,594.00 L237.88,592.00 L236.23,590.00 L234.69,588.00 L233.16,586.00 L231.62,584.00 L230.09,582.00 L228.56,580.00 L227.03,578.00 L225.51,576.00 L223.99,574.00 L222.47,572.00 L220.96,570.00 L219.46,568.00 L217.96,566.00 L216.47,564.00 L214.99,562.00 L213.52,560.00 L212.06,558.00 L210.60,556.00 L209.16,554.00 L207.73,552.00 L206.32,550.00 L204.91,548.00 L203.52,546.00 L202.15,544.00 L200.79,542.00 L199.45,540.00 L198.12,538.00 L196.82,536.00 L195.53,534.00 L194.26,532.00 L193.02,530.00 L191.80,528.00 L190.60,526.00 L189.42,524.00 L188.27,522.00 L187.15,520.00 L186.06,518.00 L184.99,516.00 L183.95,514.00 L182.95,512.00 L181.97,510.00 L181.03,508.00 L180.11,506.00 L179.24,504.00 L178.40,502.00 L177.59,500.00 L176.82,498.00 L176.09,496.00 L175.40,494.00 L174.74,492.00 L174.13,490.00 L173.55,488.00 L173.02,486.00 L172.53,484.00 L172.08,482.00 L171.67,480.00 L171.31,478.00 L170.99,476.00 L170.71,474.00 L170.48,472.00 L170.30,470.00 L170.16,468.00 L170.06,466.00 L170.01,464.00 L170.00,462.00 L170.04,460.00 L170.13,458.00 L170.26,456.00 L170.43,454.00 L170.65,452.00 L170.92,450.00 L171.22,448.00 L171.58,446.00 L171.97,444.00 L172.41,442.00 L172.89,440.00 L173.41,438.00 L173.98,436.00 L174.58,434.00 L175.23,432.00 L175.91,430.00 L176.63,428.00 L177.39,426.00 L178.19,424.00 L179.02,422.00 L179.89,420.00 L180.79,418.00 L181.73,416.00 L182.70,414.00 L183.70,412.00 L184.73,410.00 L185.79,408.00 L186.88,406.00 L187.99,404.00 L189.13,402.00 L190.30,400.00 L191.49,398.00 L192.71,396.00 L193.95,394.00 L195.21,392.00 L196.49,390.00 L197.79,388.00 L199.11,386.00 L200.45,384.00 L201.81,382.00 L203.18,380.00 L204.56,378.00 L205.96,376.00 L207.38,374.00 L208.80,372.00 L210.24,370.00 L211.69,368.00 L213.15,366.00 L214.62,364.00 L216.10,362.00 L217.59,360.00 L219.08,358.00 L220.59,356.00 L222.09,354.00 L223.61,352.00 L225.13,350.00 L226.65,348.00 L228.18,346.00 L229.71,344.00 L231.24,342.00 L232.77,340.00 L234.31,338.00 L235.85,336.00 L237.44,334.00 L239.21,332.00 L240.98,330.00 L242.75,328.00 L244.51,326.00 L246.27,324.00 L248.02,322.00 L249.76,320.00 L251.50,318.00 L253.23,316.00 L254.95,314.00 L256.66,312.00 L258.36,310.00 L260.04,308.00 L261.71,306.00 L263.37,304.00 L265.01,302.00 L266.63,300.00 L268.23,298.00 L269.82,296.00 L271.39,294.00 L272.93,292.00 L274.46,290.00 L275.96,288.00 L277.44,286.00 L278.89,284.00 L280.32,282.00 L281.73,280.00 L283.10,278.00 L284.45,276.00 L285.77,274.00 L287.06,272.00 L288.32,270.00 L289.55,268.00 L290.75,266.00 L291.92,264.00 L293.05,262.00 L294.15,260.00 L295.22,258.00 L296.25,256.00 L297.24,254.00 L298.20,252.00 L299.12,250.00 L300.01,248.00 L300.86,246.00 L301.66,244.00 L302.43,242.00 L303.16,240.00 L303.86,238.00 L304.51,236.00 L305.12,234.00 L305.69,232.00 L306.21,230.00 L306.70,228.00 L307.15,226.00 L307.55,224.00 L307.91,222.00Z" fill="#3484f6"/>
<path d="M148.09,222.00 L148.45,224.00 L148.85,226.00 L149.30,228.00 L149.79,230.00 L150.31,232.00 L150.88,234.00 L151.49,236.00 L152.14,238.00 L152.84,240.00 L153.57,242.00 L154.34,244.00 L155.14,246.00 L155.99,248.00 L156.88,250.00 L157.80,252.00 L158.76,254.00 L159.75,256.00 L160.78,258.00 L161.85,260.00 L162.95,262.00 L164.08,264.00 L165.25,266.00 L166.45,268.00 L167.68,270.00 L168.94,272.00 L170.23,274.00 L171.55,276.00 L172.90,278.00 L174.27,280.00 L175.68,282.00 L177.11,284.00 L178.56,286.00 L180.04,288.00 L181.54,290.00 L183.07,292.00 L184.61,294.00 L186.18,296.00 L187.77,298.00 L189.37,300.00 L190.99,302.00 L192.63,304.00 L194.29,306.00 L195.96,308.00 L197.64,310.00 L199.34,312.00 L201.05,314.00 L202.77,316.00 L204.50,318.00 L206.24,320.00 L207.98,322.00 L209.73,324.00 L211.49,326.00 L213.25,328.00 L215.02,330.00 L216.79,332.00 L218.56,334.00 L220.15,336.00 L221.69,338.00 L223.23,340.00 L224.76,342.00 L226.29,344.00 L227.82,346.00 L229.35,348.00 L230.87,350.00 L232.39,352.00 L233.91,354.00 L235.41,356.00 L236.92,358.00 L238.41,360.00 L239.90,362.00 L241.38,364.00 L242.85,366.00 L244.31,368.00 L245.76,370.00 L247.20,372.00 L248.62,374.00 L250.04,376.00 L251.44,378.00 L252.82,380.00 L254.19,382.00 L255.55,384.00 L256.89,386.00 L258.21,388.00 L259.51,390.00 L260.79,392.00 L262.05,394.00 L263.29,396.00 L264.51,398.00 L265.70,400.00 L266.87,402.00 L268.01,404.00 L269.12,406.00 L270.21,408.00 L271.27,410.00 L272.30,412.00 L273.30,414.00 L274.27,416.00 L275.21,418.00 L276.11,420.00 L276.98,422.00 L277.81,424.00 L278.61,426.00 L279.37,428.00 L280.09,430.00 L280.77,432.00 L281.42,434.00 L282.02,436.00 L282.59,438.00 L283.11,440.00 L283.59,442.00 L284.03,444.00 L284.42,446.00 L284.78,448.00 L285.08,450.00 L285.35,452.00 L285.57,454.00 L285.74,456.00 L285.87,458.00 L285.96,460.00 L286.00,462.00 L285.99,464.00 L285.94,466.00 L285.84,468.00 L285.70,470.00 L285.52,472.00 L285.29,474.00 L285.01,476.00 L284.69,478.00 L284.33,480.00 L283.92,482.00 L283.47,484.00 L282.98,486.00 L282.45,488.00 L281.87,490.00 L281.26,492.00 L280.60,494.00 L279.91,496.00 L279.18,498.00 L278.41,500.00 L277.60,502.00 L276.76,504.00 L275.89,506.00 L274.97,508.00 L274.03,510.00 L273.05,512.00 L272.05,514.00 L271.01,516.00 L269.94,518.00 L268.85,520.00 L267.73,522.00 L266.58,524.00 L265.40,526.00 L264.20,528.00 L262.98,530.00 L261.74,532.00 L260.47,534.00 L259.18,536.00 L257.88,538.00 L256.55,540.00 L255.21,542.00 L253.85,544.00 L252.48,546.00 L251.09,548.00 L249.68,550.00 L248.27,552.00 L246.84,554.00 L245.40,556.00 L243.94,558.00 L242.48,560.00 L241.01,562.00 L239.53,564.00 L238.04,566.00 L236.54,568.00 L235.04,570.00 L233.53,572.00 L232.01,574.00 L230.49,576.00 L228.97,578.00 L227.44,580.00 L225.91,582.00 L224.38,584.00 L222.84,586.00 L221.31,588.00 L219.77,590.00 L218.12,592.00 L216.35,594.00 L214.58,596.00 L212.81,598.00 L211.05,600.00 L209.30,602.00 L207.54,604.00 L205.80,606.00 L204.06,608.00 L202.34,610.00 L200.62,612.00 L198.92,614.00 L197.22,616.00 L195.54,618.00 L193.87,620.00 L192.22,622.00 L190.59,624.00 L188.97,626.00 L187.37,628.00 L185.79,630.00 L184.22,632.00 L182.68,634.00 L181.16,636.00 L179.67,638.00 L178.20,640.00 L176.75,642.00 L175.32,644.00 L173.93,646.00 L172.56,648.00 L171.22,650.00 L169.90,652.00 L168.62,654.00 L167.37,656.00 L166.14,658.00 L164.95,660.00 L163.80,662.00 L162.67,664.00 L161.58,666.00 L160.52,668.00 L159.50,670.00 L158.51,672.00 L157.56,674.00 L156.65,676.00 L155.78,678.00 L154.94,680.00 L154.14,682.00 L153.38,684.00 L152.66,686.00 L151.98,688.00 L151.34,690.00 L172.61,690.00 L173.22,688.00 L173.87,686.00 L174.56,684.00 L175.28,682.00 L176.04,680.00 L176.84,678.00 L177.67,676.00 L178.54,674.00 L179.44,672.00 L180.38,670.00 L181.36,668.00 L182.36,666.00 L183.40,664.00 L184.47,662.00 L185.57,660.00 L186.71,658.00 L187.87,656.00 L189.06,654.00 L190.28,652.00 L191.53,650.00 L192.81,648.00 L194.11,646.00 L195.44,644.00 L196.79,642.00 L198.17,640.00 L199.57,638.00 L201.00,636.00 L202.44,634.00 L203.91,632.00 L205.39,630.00 L206.90,628.00 L208.42,626.00 L209.96,624.00 L211.52,622.00 L213.09,620.00 L214.68,618.00 L216.28,616.00 L217.89,614.00 L219.51,612.00 L221.15,610.00 L222.79,608.00 L224.44,606.00 L226.10,604.00 L227.77,602.00 L229.44,600.00 L231.11,598.00 L232.79,596.00 L234.47,594.00 L236.16,592.00 L237.85,590.00 L239.56,588.00 L241.27,586.00 L242.98,584.00 L244.68,582.00 L246.38,580.00 L248.08,578.00 L249.77,576.00 L251.46,574.00 L253.14,572.00 L254.82,570.00 L256.49,568.00 L258.15,566.00 L259.80,564.00 L261.44,562.00 L263.07,560.00 L264.70,558.00 L266.30,556.00 L267.90,554.00 L269.48,552.00 L271.05,550.00 L272.61,548.00 L274.14,546.00 L275.66,544.00 L277.17,542.00 L278.65,540.00 L280.11,538.00 L281.55,536.00 L282.97,534.00 L284.37,532.00 L285.74,530.00 L287.08,528.00 L288.40,526.00 L289.70,524.00 L290.96,522.00 L292.20,520.00 L293.40,518.00 L294.57,516.00 L295.71,514.00 L296.82,512.00 L297.89,510.00 L298.93,508.00 L299.93,506.00 L300.89,504.00 L301.81,502.00 L302.69,500.00 L303.54,498.00 L304.34,496.00 L305.10,494.00 L305.81,492.00 L306.49,490.00 L307.12,488.00 L307.70,486.00 L308.24,484.00 L308.73,482.00 L309.17,480.00 L309.57,478.00 L309.92,476.00 L310.22,474.00 L310.47,472.00 L310.68,470.00 L310.83,468.00 L310.93,466.00 L310.99,464.00 L311.00,462.00 L310.95,460.00 L310.86,458.00 L310.72,456.00 L310.53,454.00 L310.29,452.00 L310.00,450.00 L309.66,448.00 L309.28,446.00 L308.84,444.00 L308.36,442.00 L307.84,440.00 L307.27,438.00 L306.65,436.00 L305.99,434.00 L305.28,432.00 L304.53,430.00 L303.74,428.00 L302.91,426.00 L302.04,424.00 L301.12,422.00 L300.17,420.00 L299.18,418.00 L298.15,416.00 L297.09,414.00 L295.99,412.00 L294.86,410.00 L293.70,408.00 L292.50,406.00 L291.27,404.00 L290.02,402.00 L288.73,400.00 L287.42,398.00 L286.08,396.00 L284.71,394.00 L283.32,392.00 L281.91,390.00 L280.47,388.00 L279.02,386.00 L277.54,384.00 L276.04,382.00 L274.53,380.00 L272.99,378.00 L271.44,376.00 L269.88,374.00 L268.30,372.00 L266.71,370.00 L265.10,368.00 L263.48,366.00 L261.85,364.00 L260.21,362.00 L258.56,360.00 L256.90,358.00 L255.24,356.00 L253.56,354.00 L251.88,352.00 L250.19,350.00 L248.50,348.00 L246.81,346.00 L245.11,344.00 L243.40,342.00 L241.70,340.00 L239.99,338.00 L238.28,336.00 L236.58,334.00 L234.90,332.00 L233.21,330.00 L231.53,328.00 L229.86,326.00 L228.18,324.00 L226.52,322.00 L224.85,320.00 L223.20,318.00 L221.56,316.00 L219.92,314.00 L218.29,312.00 L216.68,310.00 L215.08,308.00 L213.49,306.00 L211.91,304.00 L210.35,302.00 L208.81,300.00 L207.28,298.00 L205.77,296.00 L204.28,294.00 L202.81,292.00 L201.36,290.00 L199.93,288.00 L198.52,286.00 L197.14,284.00 L195.78,282.00 L194.44,280.00 L193.13,278.00 L191.85,276.00 L190.59,274.00 L189.36,272.00 L188.16,270.00 L186.99,268.00 L185.85,266.00 L184.74,264.00 L183.66,262.00 L182.62,260.00 L181.60,258.00 L180.62,256.00 L179.68,254.00 L178.76,252.00 L177.89,250.00 L177.04,248.00 L176.24,246.00 L175.47,244.00 L174.74,242.00 L174.04,240.00 L173.38,238.00 L172.76,236.00 L172.18,234.00 L171.64,232.00 L171.14,230.00 L170.68,228.00 L170.25,226.00 L169.87,224.00 L169.53,222.00Z" fill="#3484f6"/>
<path d="M181.16,289.50 L182.68,291.50 L184.22,293.50 L185.79,295.50 L187.37,297.50 L188.97,299.50 L190.59,301.50 L192.22,303.50 L193.87,305.50 L195.54,307.50 L197.22,309.50 L198.92,311.50 L200.62,313.50 L202.34,315.50 L204.06,317.50 L205.80,319.50 L207.54,321.50 L209.30,323.50 L211.05,325.50 L212.81,327.50 L214.58,329.50 L216.35,331.50 L218.12,333.50 L219.77,335.50 L221.31,337.50 L222.84,339.50 L224.38,341.50 L225.91,343.50 L227.44,345.50 L228.97,347.50 L230.49,349.50 L232.01,351.50 L233.53,353.50 L235.04,355.50 L236.54,357.50 L238.04,359.50 L239.53,361.50 L241.01,363.50 L242.48,365.50 L243.94,367.50 L245.40,369.50 L246.84,371.50 L248.27,373.50 L249.68,375.50 L251.09,377.50 L252.48,379.50 L274.14,379.50 L272.61,377.50 L271.05,375.50 L269.48,373.50 L267.90,371.50 L266.30,369.50 L264.70,367.50 L263.07,365.50 L261.44,363.50 L259.80,361.50 L258.15,359.50 L256.49,357.50 L254.82,355.50 L253.14,353.50 L251.46,351.50 L249.77,349.50 L248.08,347.50 L246.38,345.50 L244.68,343.50 L242.98,341.50 L241.27,339.50 L239.56,337.50 L237.85,335.50 L236.16,333.50 L234.47,331.50 L232.79,329.50 L231.11,327.50 L229.44,325.50 L227.77,323.50 L226.10,321.50 L224.44,319.50 L222.79,317.50 L221.15,315.50 L219.51,313.50 L217.89,311.50 L216.28,309.50 L214.68,307.50 L213.09,305.50 L211.52,303.50 L209.96,301.50 L208.42,299.50 L206.90,297.50 L205.39,295.50 L203.91,293.50 L202.44,291.50 L201.00,289.50Z" fill="none" stroke="#fff" stroke-width="16.0" stroke-linejoin="round"/>
<path d="M170.56,274.50 L171.88,276.50 L173.24,278.50 L174.62,280.50 L176.03,282.50 L177.47,284.50 L178.93,286.50 L180.41,288.50 L181.92,290.50 L183.45,292.50 L185.00,294.50 L186.57,296.50 L188.17,298.50 L189.78,300.50 L191.40,302.50 L193.05,304.50 L194.71,306.50 L196.38,308.50 L198.07,310.50 L199.77,312.50 L201.48,314.50 L203.20,316.50 L204.93,318.50 L206.67,320.50 L208.42,322.50 L210.17,324.50 L211.93,326.50 L213.70,328.50 L215.46,330.50 L217.23,332.50 L219.00,334.50 L220.54,336.50 L222.07,338.50 L223.61,340.50 L225.14,342.50 L226.68,344.50 L228.21,346.50 L229.73,348.50 L231.25,350.50 L232.77,352.50 L234.28,354.50 L235.79,356.50 L237.29,358.50 L238.78,360.50 L240.27,362.50 L241.74,364.50 L243.21,366.50 L244.67,368.50 L246.12,370.50 L247.55,372.50 L248.98,374.50 L250.39,376.50 L251.79,378.50 L253.17,380.50 L254.53,382.50 L255.89,384.50 L257.22,386.50 L258.53,388.50 L259.83,390.50 L261.11,392.50 L262.36,394.50 L285.06,394.50 L283.67,392.50 L282.26,390.50 L280.83,388.50 L279.38,386.50 L277.91,384.50 L276.42,382.50 L274.91,380.50 L273.38,378.50 L271.83,376.50 L270.27,374.50 L268.70,372.50 L267.10,370.50 L265.50,368.50 L263.89,366.50 L262.26,364.50 L260.62,362.50 L258.97,360.50 L257.32,358.50 L255.65,356.50 L253.98,354.50 L252.30,352.50 L250.62,350.50 L248.93,348.50 L247.23,346.50 L245.53,344.50 L243.83,342.50 L242.12,340.50 L240.42,338.50 L238.71,336.50 L237.00,334.50 L235.32,332.50 L233.63,330.50 L231.95,328.50 L230.27,326.50 L228.60,324.50 L226.93,322.50 L225.27,320.50 L223.61,318.50 L221.97,316.50 L220.33,314.50 L218.70,312.50 L217.08,310.50 L215.47,308.50 L213.88,306.50 L212.30,304.50 L210.74,302.50 L209.19,300.50 L207.66,298.50 L206.15,296.50 L204.65,294.50 L203.17,292.50 L201.72,290.50 L200.28,288.50 L198.87,286.50 L197.48,284.50 L196.11,282.50 L194.77,280.50 L193.46,278.50 L192.17,276.50 L190.90,274.50Z" fill="#3484f6"/>
<path d="M181.86,546.00 L183.39,548.00 L184.95,550.00 L186.52,552.00 L188.10,554.00 L189.70,556.00 L191.30,558.00 L192.93,560.00 L194.56,562.00 L196.20,564.00 L197.85,566.00 L199.51,568.00 L201.18,570.00 L202.86,572.00 L204.54,574.00 L206.23,576.00 L207.92,578.00 L209.62,580.00 L211.32,582.00 L213.02,584.00 L214.73,586.00 L216.44,588.00 L218.15,590.00 L219.84,592.00 L221.53,594.00 L223.21,596.00 L224.89,598.00 L226.56,600.00 L228.23,602.00 L229.90,604.00 L231.56,606.00 L233.21,608.00 L234.85,610.00 L236.49,612.00 L238.11,614.00 L239.72,616.00 L241.32,618.00 L242.91,620.00 L244.48,622.00 L246.04,624.00 L247.58,626.00 L249.10,628.00 L250.61,630.00 L252.09,632.00 L253.56,634.00 L255.00,636.00 L274.84,636.00 L273.32,634.00 L271.78,632.00 L270.21,630.00 L268.63,628.00 L267.03,626.00 L265.41,624.00 L263.78,622.00 L262.13,620.00 L260.46,618.00 L258.78,616.00 L257.08,614.00 L255.38,612.00 L253.66,610.00 L251.94,608.00 L250.20,606.00 L248.46,604.00 L246.70,602.00 L244.95,600.00 L243.19,598.00 L241.42,596.00 L239.65,594.00 L237.88,592.00 L236.23,590.00 L234.69,588.00 L233.16,586.00 L231.62,584.00 L230.09,582.00 L228.56,580.00 L227.03,578.00 L225.51,576.00 L223.99,574.00 L222.47,572.00 L220.96,570.00 L219.46,568.00 L217.96,566.00 L216.47,564.00 L214.99,562.00 L213.52,560.00 L212.06,558.00 L210.60,556.00 L209.16,554.00 L207.73,552.00 L206.32,550.00 L204.91,548.00 L203.52,546.00Z" fill="none" stroke="#fff" stroke-width="16.0" stroke-linejoin="round"/>
<path d="M170.94,531.00 L172.33,533.00 L173.74,535.00 L175.17,537.00 L176.62,539.00 L178.09,541.00 L179.58,543.00 L181.09,545.00 L182.62,547.00 L184.17,549.00 L185.73,551.00 L187.30,553.00 L188.90,555.00 L190.50,557.00 L192.11,559.00 L193.74,561.00 L195.38,563.00 L197.03,565.00 L198.68,567.00 L200.35,569.00 L202.02,571.00 L203.70,573.00 L205.38,575.00 L207.07,577.00 L208.77,579.00 L210.47,581.00 L212.17,583.00 L213.88,585.00 L215.58,587.00 L217.29,589.00 L219.00,591.00 L220.68,593.00 L222.37,595.00 L224.05,597.00 L225.73,599.00 L227.40,601.00 L229.07,603.00 L230.73,605.00 L232.39,607.00 L234.03,609.00 L235.67,611.00 L237.30,613.00 L238.92,615.00 L240.53,617.00 L242.12,619.00 L243.70,621.00 L245.26,623.00 L246.81,625.00 L248.34,627.00 L249.85,629.00 L251.35,631.00 L252.83,633.00 L254.28,635.00 L255.72,637.00 L257.13,639.00 L258.52,641.00 L259.89,643.00 L261.23,645.00 L262.54,647.00 L263.83,649.00 L265.10,651.00 L285.44,651.00 L284.12,649.00 L282.76,647.00 L281.38,645.00 L279.97,643.00 L278.53,641.00 L277.07,639.00 L275.59,637.00 L274.08,635.00 L272.55,633.00 L271.00,631.00 L269.43,629.00 L267.83,627.00 L266.22,625.00 L264.60,623.00 L262.95,621.00 L261.29,619.00 L259.62,617.00 L257.93,615.00 L256.23,613.00 L254.52,611.00 L252.80,609.00 L251.07,607.00 L249.33,605.00 L247.58,603.00 L245.83,601.00 L244.07,599.00 L242.30,597.00 L240.54,595.00 L238.77,593.00 L237.00,591.00 L235.46,589.00 L233.93,587.00 L232.39,585.00 L230.86,583.00 L229.32,581.00 L227.79,579.00 L226.27,577.00 L224.75,575.00 L223.23,573.00 L221.72,571.00 L220.21,569.00 L218.71,567.00 L217.22,565.00 L215.73,563.00 L214.26,561.00 L212.79,559.00 L211.33,557.00 L209.88,555.00 L208.45,553.00 L207.02,551.00 L205.61,549.00 L204.21,547.00 L202.83,545.00 L201.47,543.00 L200.11,541.00 L198.78,539.00 L197.47,537.00 L196.17,535.00 L194.89,533.00 L193.64,531.00Z" fill="#3484f6"/>
<circle cx="299.50" cy="334.50" r="8.2" fill="#3484f6"/>
<circle cx="173.60" cy="367.60" r="7" fill="#3484f6"/>
<circle cx="148.20" cy="399.90" r="7" fill="#3484f6"/>
<circle cx="319.50" cy="395.50" r="11.4" fill="#3484f6"/>
<circle cx="137.00" cy="430.40" r="7.2" fill="#3484f6"/>
<circle cx="133.60" cy="471.50" r="7.5" fill="#3484f6"/>
<circle cx="329.50" cy="475.00" r="11" fill="#3484f6"/>
<circle cx="144.70" cy="514.30" r="7" fill="#3484f6"/>
<circle cx="162.80" cy="544.40" r="7" fill="#3484f6"/>
<circle cx="303.00" cy="543.00" r="11" fill="#3484f6"/>
<circle cx="191.80" cy="577.50" r="7.5" fill="#3484f6"/>
<circle cx="262.50" cy="586.80" r="11" fill="#3484f6"/>
<g opacity="0.3">
<rect x="430.71" y="232.40" width="55.29" height="4.4" fill="#c8c8c8"/>
<rect x="508.00" y="232.40" width="55.29" height="4.4" fill="#c8c8c8"/>
</g>
<g opacity="0.6">
<rect x="437.47" y="250.20" width="48.53" height="4.4" fill="#c8c8c8"/>
<rect x="520.00" y="250.20" width="36.53" height="4.4" fill="#c8c8c8"/>
<rect x="486.00" y="250.20" width="34.00" height="4.4" fill="#f6f6f6"/>
<circle cx="513.50" cy="252.40" r="7.0" fill="#fff"/>
<circle cx="513.50" cy="252.40" r="5.0" fill="#c8c8c8"/>
</g>
<g opacity="0.8">
<rect x="447.16" y="268.20" width="24.84" height="4.4" fill="#c8c8c8"/>
<rect x="510.00" y="268.20" width="36.84" height="4.4" fill="#c8c8c8"/>
<rect x="472.00" y="268.20" width="38.00" height="4.4" fill="#f6f6f6"/>
<circle cx="479.50" cy="270.40" r="7.0" fill="#fff"/>
<circle cx="479.50" cy="270.40" r="5.0" fill="#c8c8c8"/>
</g>
<g opacity="0.92">
<rect x="460.01" y="287.20" width="25.99" height="4.4" fill="#c8c8c8"/>
<rect x="508.00" y="287.20" width="25.99" height="4.4" fill="#c8c8c8"/>
</g>
<g opacity="1">
<rect x="461.83" y="377.10" width="25.17" height="4.4" fill="#c8c8c8"/>
<rect x="510.00" y="377.10" width="22.17" height="4.4" fill="#c8c8c8"/>
</g>
<g opacity="1">
<rect x="449.23" y="395.50" width="36.77" height="4.4" fill="#c8c8c8"/>
<rect x="520.00" y="395.50" width="24.77" height="4.4" fill="#c8c8c8"/>
<rect x="486.00" y="395.50" width="34.00" height="4.4" fill="#f6f6f6"/>
<circle cx="513.50" cy="397.70" r="7.0" fill="#fff"/>
<path d="M513.50,392.70 A5.0,5.0 0 0 1 513.50,402.70 Z" fill="#c8c8c8"/>
</g>
<g opacity="1">
<rect x="438.79" y="413.80" width="33.21" height="4.4" fill="#c8c8c8"/>
<rect x="509.00" y="413.80" width="46.21" height="4.4" fill="#c8c8c8"/>
<rect x="472.00" y="413.80" width="37.00" height="4.4" fill="#f6f6f6"/>
<circle cx="479.50" cy="416.00" r="7.0" fill="#fff"/>
<circle cx="479.50" cy="416.00" r="5.0" fill="#c8c8c8"/>
</g>
<g opacity="1">
<rect x="431.17" y="432.20" width="50.83" height="4.4" fill="#c8c8c8"/>
<rect x="520.50" y="432.20" width="42.33" height="4.4" fill="#c8c8c8"/>
<rect x="482.00" y="432.20" width="38.50" height="4.4" fill="#f6f6f6"/>
<circle cx="513.20" cy="434.40" r="7.0" fill="#fff"/>
<circle cx="513.20" cy="434.40" r="5.0" fill="#c8c8c8"/>
</g>
<g opacity="1">
<rect x="427.08" y="450.60" width="44.92" height="4.4" fill="#c8c8c8"/>
<rect x="505.80" y="450.60" width="61.12" height="4.4" fill="#c8c8c8"/>
<rect x="472.00" y="450.60" width="33.80" height="4.4" fill="#f6f6f6"/>
<circle cx="480.00" cy="452.80" r="7.0" fill="#fff"/>
<path d="M480.00,447.80 A5.0,5.0 0 0 0 480.00,457.80 Z" fill="#c8c8c8"/>
</g>
<g opacity="1">
<rect x="426.95" y="469.30" width="53.05" height="4.4" fill="#c8c8c8"/>
<rect x="520.50" y="469.30" width="46.55" height="4.4" fill="#c8c8c8"/>
<rect x="480.00" y="469.30" width="40.50" height="4.4" fill="#f6f6f6"/>
<circle cx="512.50" cy="471.50" r="7.0" fill="#fff"/>
<circle cx="512.50" cy="471.50" r="5.0" fill="#c8c8c8"/>
</g>
<g opacity="1">
<rect x="430.82" y="487.80" width="36.18" height="4.4" fill="#d6d6d6"/>
<rect x="507.50" y="487.80" width="55.68" height="4.4" fill="#d6d6d6"/>
<rect x="467.00" y="487.80" width="40.50" height="4.4" fill="#f6f6f6"/>
<circle cx="479.00" cy="490.00" r="7.0" fill="#fff"/>
<circle cx="479.00" cy="490.00" r="5.0" fill="#d6d6d6"/>
</g>
<g opacity="1">
<rect x="438.20" y="506.10" width="31.80" height="4.4" fill="#d6d6d6"/>
<rect x="520.00" y="506.10" width="35.80" height="4.4" fill="#d6d6d6"/>
<rect x="470.00" y="506.10" width="50.00" height="4.4" fill="#f6f6f6"/>
<circle cx="513.00" cy="508.30" r="7.0" fill="#fff"/>
<circle cx="513.00" cy="508.30" r="5.0" fill="#d6d6d6"/>
</g>
<g opacity="1">
<rect x="448.53" y="524.50" width="25.47" height="4.4" fill="#d6d6d6"/>
<rect x="510.00" y="524.50" width="35.47" height="4.4" fill="#d6d6d6"/>
<rect x="474.00" y="524.50" width="36.00" height="4.4" fill="#f6f6f6"/>
<circle cx="481.00" cy="526.70" r="7.0" fill="#fff"/>
<circle cx="481.00" cy="526.70" r="5.0" fill="#d6d6d6"/>
</g>
<g opacity="1">
<rect x="460.96" y="542.80" width="25.04" height="4.4" fill="#d6d6d6"/>
<rect x="508.00" y="542.80" width="25.04" height="4.4" fill="#d6d6d6"/>
</g>
<g opacity="1">
<rect x="458.62" y="635.80" width="27.38" height="4.4" fill="#c8c8c8"/>
<rect x="508.00" y="635.80" width="27.38" height="4.4" fill="#c8c8c8"/>
</g>
<g opacity="0.8">
<rect x="446.38" y="654.20" width="36.62" height="4.4" fill="#c8c8c8"/>
<rect x="520.00" y="654.20" width="27.62" height="4.4" fill="#c8c8c8"/>
<rect x="483.00" y="654.20" width="37.00" height="4.4" fill="#f6f6f6"/>
<circle cx="513.50" cy="656.40" r="7.0" fill="#fff"/>
<circle cx="513.50" cy="656.40" r="5.0" fill="#c8c8c8"/>
</g>
<g opacity="0.45">
<rect x="437.51" y="670.80" width="34.49" height="4.4" fill="#c8c8c8"/>
<rect x="510.00" y="670.80" width="46.49" height="4.4" fill="#c8c8c8"/>
<rect x="472.00" y="670.80" width="38.00" height="4.4" fill="#f6f6f6"/>
<circle cx="479.50" cy="673.00" r="7.0" fill="#fff"/>
<circle cx="479.50" cy="673.00" r="5.0" fill="#c8c8c8"/>
</g>
<path d="M555.47,222.00 L555.13,224.00 L554.75,226.00 L554.32,228.00 L553.86,230.00 L553.36,232.00 L552.82,234.00 L552.24,236.00 L551.62,238.00 L550.96,240.00 L550.26,242.00 L549.53,244.00 L548.76,246.00 L547.96,248.00 L547.11,250.00 L546.24,252.00 L545.32,254.00 L544.38,256.00 L543.40,258.00 L542.38,260.00 L541.34,262.00 L540.26,264.00 L539.15,266.00 L538.01,268.00 L536.84,270.00 L535.64,272.00 L534.41,274.00 L533.15,276.00 L531.87,278.00 L530.56,280.00 L529.22,282.00 L527.86,284.00 L526.48,286.00 L525.07,288.00 L523.64,290.00 L522.19,292.00 L520.72,294.00 L519.23,296.00 L517.72,298.00 L516.19,300.00 L514.65,302.00 L513.09,304.00 L511.51,306.00 L509.92,308.00 L508.32,310.00 L506.71,312.00 L505.08,314.00 L503.44,316.00 L501.80,318.00 L500.15,320.00 L498.48,322.00 L496.82,324.00 L495.14,326.00 L493.47,328.00 L491.79,330.00 L490.10,332.00 L488.42,334.00 L486.72,336.00 L485.01,338.00 L483.30,340.00 L481.60,342.00 L479.89,344.00 L478.19,346.00 L476.50,348.00 L474.81,350.00 L473.12,352.00 L471.44,354.00 L469.76,356.00 L468.10,358.00 L466.44,360.00 L464.79,362.00 L463.15,364.00 L461.52,366.00 L459.90,368.00 L458.29,370.00 L456.70,372.00 L455.12,374.00 L453.56,376.00 L452.01,378.00 L450.47,380.00 L448.96,382.00 L447.46,384.00 L445.98,386.00 L444.53,388.00 L443.09,390.00 L441.68,392.00 L440.29,394.00 L438.92,396.00 L437.58,398.00 L436.27,400.00 L434.98,402.00 L433.73,404.00 L432.50,406.00 L431.30,408.00 L430.14,410.00 L429.01,412.00 L427.91,414.00 L426.85,416.00 L425.82,418.00 L424.83,420.00 L423.88,422.00 L422.96,424.00 L422.09,426.00 L421.26,428.00 L420.47,430.00 L419.72,432.00 L419.01,434.00 L418.35,436.00 L417.73,438.00 L417.16,440.00 L416.64,442.00 L416.16,444.00 L415.72,446.00 L415.34,448.00 L415.00,450.00 L414.71,452.00 L414.47,454.00 L414.28,456.00 L414.14,458.00 L414.05,460.00 L414.00,462.00 L414.01,464.00 L414.07,466.00 L414.17,468.00 L414.32,470.00 L414.53,472.00 L414.78,474.00 L415.08,476.00 L415.43,478.00 L415.83,480.00 L416.27,482.00 L416.76,484.00 L417.30,486.00 L417.88,488.00 L418.51,490.00 L419.19,492.00 L419.90,494.00 L420.66,496.00 L421.46,498.00 L422.31,500.00 L423.19,502.00 L424.11,504.00 L425.07,506.00 L426.07,508.00 L427.11,510.00 L428.18,512.00 L429.29,514.00 L430.43,516.00 L431.60,518.00 L432.80,520.00 L434.04,522.00 L435.30,524.00 L436.60,526.00 L437.92,528.00 L439.26,530.00 L440.63,532.00 L442.03,534.00 L443.45,536.00 L444.89,538.00 L446.35,540.00 L447.83,542.00 L449.34,544.00 L450.86,546.00 L452.39,548.00 L453.95,550.00 L455.52,552.00 L457.10,554.00 L458.70,556.00 L460.30,558.00 L461.93,560.00 L463.56,562.00 L465.20,564.00 L466.85,566.00 L468.51,568.00 L470.18,570.00 L471.86,572.00 L473.54,574.00 L475.23,576.00 L476.92,578.00 L478.62,580.00 L480.32,582.00 L482.02,584.00 L483.73,586.00 L485.44,588.00 L487.15,590.00 L488.84,592.00 L490.53,594.00 L492.21,596.00 L493.89,598.00 L495.56,600.00 L497.23,602.00 L498.90,604.00 L500.56,606.00 L502.21,608.00 L503.85,610.00 L505.49,612.00 L507.11,614.00 L508.72,616.00 L510.32,618.00 L511.91,620.00 L513.48,622.00 L515.04,624.00 L516.58,626.00 L518.10,628.00 L519.61,630.00 L521.09,632.00 L522.56,634.00 L524.00,636.00 L525.43,638.00 L526.83,640.00 L528.21,642.00 L529.56,644.00 L530.89,646.00 L532.19,648.00 L533.47,650.00 L534.72,652.00 L535.94,654.00 L537.13,656.00 L538.29,658.00 L539.43,660.00 L540.53,662.00 L541.60,664.00 L542.64,666.00 L543.64,668.00 L544.62,670.00 L545.56,672.00 L546.46,674.00 L547.33,676.00 L548.16,678.00 L548.96,680.00 L549.72,682.00 L550.44,684.00 L551.13,686.00 L551.78,688.00 L552.39,690.00 L573.66,690.00 L573.02,688.00 L572.34,686.00 L571.62,684.00 L570.86,682.00 L570.06,680.00 L569.22,678.00 L568.35,676.00 L567.44,674.00 L566.49,672.00 L565.50,670.00 L564.48,668.00 L563.42,666.00 L562.33,664.00 L561.20,662.00 L560.05,660.00 L558.86,658.00 L557.63,656.00 L556.38,654.00 L555.10,652.00 L553.78,650.00 L552.44,648.00 L551.07,646.00 L549.68,644.00 L548.25,642.00 L546.80,640.00 L545.33,638.00 L543.84,636.00 L542.32,634.00 L540.78,632.00 L539.21,630.00 L537.63,628.00 L536.03,626.00 L534.41,624.00 L532.78,622.00 L531.13,620.00 L529.46,618.00 L527.78,616.00 L526.08,614.00 L524.38,612.00 L522.66,610.00 L520.94,608.00 L519.20,606.00 L517.46,604.00 L515.70,602.00 L513.95,600.00 L512.19,598.00 L510.42,596.00 L508.65,594.00 L506.88,592.00 L505.23,590.00 L503.69,588.00 L502.16,586.00 L500.62,584.00 L499.09,582.00 L497.56,580.00 L496.03,578.00 L494.51,576.00 L492.99,574.00 L491.47,572.00 L489.96,570.00 L488.46,568.00 L486.96,566.00 L485.47,564.00 L483.99,562.00 L482.52,560.00 L481.06,558.00 L479.60,556.00 L478.16,554.00 L476.73,552.00 L475.32,550.00 L473.91,548.00 L472.52,546.00 L471.15,544.00 L469.79,542.00 L468.45,540.00 L467.12,538.00 L465.82,536.00 L464.53,534.00 L463.26,532.00 L462.02,530.00 L460.80,528.00 L459.60,526.00 L458.42,524.00 L457.27,522.00 L456.15,520.00 L455.06,518.00 L453.99,516.00 L452.95,514.00 L451.95,512.00 L450.97,510.00 L450.03,508.00 L449.11,506.00 L448.24,504.00 L447.40,502.00 L446.59,500.00 L445.82,498.00 L445.09,496.00 L444.40,494.00 L443.74,492.00 L443.13,490.00 L442.55,488.00 L442.02,486.00 L441.53,484.00 L441.08,482.00 L440.67,480.00 L440.31,478.00 L439.99,476.00 L439.71,474.00 L439.48,472.00 L439.30,470.00 L439.16,468.00 L439.06,466.00 L439.01,464.00 L439.00,462.00 L439.04,460.00 L439.13,458.00 L439.26,456.00 L439.43,454.00 L439.65,452.00 L439.92,450.00 L440.22,448.00 L440.58,446.00 L440.97,444.00 L441.41,442.00 L441.89,440.00 L442.41,438.00 L442.98,436.00 L443.58,434.00 L444.23,432.00 L444.91,430.00 L445.63,428.00 L446.39,426.00 L447.19,424.00 L448.02,422.00 L448.89,420.00 L449.79,418.00 L450.73,416.00 L451.70,414.00 L452.70,412.00 L453.73,410.00 L454.79,408.00 L455.88,406.00 L456.99,404.00 L458.13,402.00 L459.30,400.00 L460.49,398.00 L461.71,396.00 L462.95,394.00 L464.21,392.00 L465.49,390.00 L466.79,388.00 L468.11,386.00 L469.45,384.00 L470.81,382.00 L472.18,380.00 L473.56,378.00 L474.96,376.00 L476.38,374.00 L477.80,372.00 L479.24,370.00 L480.69,368.00 L482.15,366.00 L483.62,364.00 L485.10,362.00 L486.59,360.00 L488.08,358.00 L489.59,356.00 L491.09,354.00 L492.61,352.00 L494.13,350.00 L495.65,348.00 L497.18,346.00 L498.71,344.00 L500.24,342.00 L501.77,340.00 L503.31,338.00 L504.85,336.00 L506.44,334.00 L508.21,332.00 L509.98,330.00 L511.75,328.00 L513.51,326.00 L515.27,324.00 L517.02,322.00 L518.76,320.00 L520.50,318.00 L522.23,316.00 L523.95,314.00 L525.66,312.00 L527.36,310.00 L529.04,308.00 L530.71,306.00 L532.37,304.00 L534.01,302.00 L535.63,300.00 L537.23,298.00 L538.82,296.00 L540.39,294.00 L541.93,292.00 L543.46,290.00 L544.96,288.00 L546.44,286.00 L547.89,284.00 L549.32,282.00 L550.73,280.00 L552.10,278.00 L553.45,276.00 L554.77,274.00 L556.06,272.00 L557.32,270.00 L558.55,268.00 L559.75,266.00 L560.92,264.00 L562.05,262.00 L563.15,260.00 L564.22,258.00 L565.25,256.00 L566.24,254.00 L567.20,252.00 L568.12,250.00 L569.01,248.00 L569.86,246.00 L570.66,244.00 L571.43,242.00 L572.16,240.00 L572.86,238.00 L573.51,236.00 L574.12,234.00 L574.69,232.00 L575.21,230.00 L575.70,228.00 L576.15,226.00 L576.55,224.00 L576.91,222.00Z" fill="none" stroke="#fff" stroke-width="17.6" stroke-linejoin="round"/>
<path d="M417.09,222.00 L417.45,224.00 L417.85,226.00 L418.30,228.00 L418.79,230.00 L419.31,232.00 L419.88,234.00 L420.49,236.00 L421.14,238.00 L421.84,240.00 L422.57,242.00 L423.34,244.00 L424.14,246.00 L424.99,248.00 L425.88,250.00 L426.80,252.00 L427.76,254.00 L428.75,256.00 L429.78,258.00 L430.85,260.00 L431.95,262.00 L433.08,264.00 L434.25,266.00 L435.45,268.00 L436.68,270.00 L437.94,272.00 L439.23,274.00 L440.55,276.00 L441.90,278.00 L443.27,280.00 L444.68,282.00 L446.11,284.00 L447.56,286.00 L449.04,288.00 L450.54,290.00 L452.07,292.00 L453.61,294.00 L455.18,296.00 L456.77,298.00 L458.37,300.00 L459.99,302.00 L461.63,304.00 L463.29,306.00 L464.96,308.00 L466.64,310.00 L468.34,312.00 L470.05,314.00 L471.77,316.00 L473.50,318.00 L475.24,320.00 L476.98,322.00 L478.73,324.00 L480.49,326.00 L482.25,328.00 L484.02,330.00 L485.79,332.00 L487.56,334.00 L489.15,336.00 L490.69,338.00 L492.23,340.00 L493.76,342.00 L495.29,344.00 L496.82,346.00 L498.35,348.00 L499.87,350.00 L501.39,352.00 L502.91,354.00 L504.41,356.00 L505.92,358.00 L507.41,360.00 L508.90,362.00 L510.38,364.00 L511.85,366.00 L513.31,368.00 L514.76,370.00 L516.20,372.00 L517.62,374.00 L519.04,376.00 L520.44,378.00 L521.82,380.00 L523.19,382.00 L524.55,384.00 L525.89,386.00 L527.21,388.00 L528.51,390.00 L529.79,392.00 L531.05,394.00 L532.29,396.00 L533.51,398.00 L534.70,400.00 L535.87,402.00 L537.01,404.00 L538.12,406.00 L539.21,408.00 L540.27,410.00 L541.30,412.00 L542.30,414.00 L543.27,416.00 L544.21,418.00 L545.11,420.00 L545.98,422.00 L546.81,424.00 L547.61,426.00 L548.37,428.00 L549.09,430.00 L549.77,432.00 L550.42,434.00 L551.02,436.00 L551.59,438.00 L552.11,440.00 L552.59,442.00 L553.03,444.00 L553.42,446.00 L553.78,448.00 L554.08,450.00 L554.35,452.00 L554.57,454.00 L554.74,456.00 L554.87,458.00 L554.96,460.00 L555.00,462.00 L554.99,464.00 L554.94,466.00 L554.84,468.00 L554.70,470.00 L554.52,472.00 L554.29,474.00 L554.01,476.00 L553.69,478.00 L553.33,480.00 L552.92,482.00 L552.47,484.00 L551.98,486.00 L551.45,488.00 L550.87,490.00 L550.26,492.00 L549.60,494.00 L548.91,496.00 L548.18,498.00 L547.41,500.00 L546.60,502.00 L545.76,504.00 L544.89,506.00 L543.97,508.00 L543.03,510.00 L542.05,512.00 L541.05,514.00 L540.01,516.00 L538.94,518.00 L537.85,520.00 L536.73,522.00 L535.58,524.00 L534.40,526.00 L533.20,528.00 L531.98,530.00 L530.74,532.00 L529.47,534.00 L528.18,536.00 L526.88,538.00 L525.55,540.00 L524.21,542.00 L522.85,544.00 L521.48,546.00 L520.09,548.00 L518.68,550.00 L517.27,552.00 L515.84,554.00 L514.40,556.00 L512.94,558.00 L511.48,560.00 L510.01,562.00 L508.53,564.00 L507.04,566.00 L505.54,568.00 L504.04,570.00 L502.53,572.00 L501.01,574.00 L499.49,576.00 L497.97,578.00 L496.44,580.00 L494.91,582.00 L493.38,584.00 L491.84,586.00 L490.31,588.00 L488.77,590.00 L487.12,592.00 L485.35,594.00 L483.58,596.00 L481.81,598.00 L480.05,600.00 L478.30,602.00 L476.54,604.00 L474.80,606.00 L473.06,608.00 L471.34,610.00 L469.62,612.00 L467.92,614.00 L466.22,616.00 L464.54,618.00 L462.87,620.00 L461.22,622.00 L459.59,624.00 L457.97,626.00 L456.37,628.00 L454.79,630.00 L453.22,632.00 L451.68,634.00 L450.16,636.00 L448.67,638.00 L447.20,640.00 L445.75,642.00 L444.32,644.00 L442.93,646.00 L441.56,648.00 L440.22,650.00 L438.90,652.00 L437.62,654.00 L436.37,656.00 L435.14,658.00 L433.95,660.00 L432.80,662.00 L431.67,664.00 L430.58,666.00 L429.52,668.00 L428.50,670.00 L427.51,672.00 L426.56,674.00 L425.65,676.00 L424.78,678.00 L423.94,680.00 L423.14,682.00 L422.38,684.00 L421.66,686.00 L420.98,688.00 L420.34,690.00 L441.61,690.00 L442.22,688.00 L442.87,686.00 L443.56,684.00 L444.28,682.00 L445.04,680.00 L445.84,678.00 L446.67,676.00 L447.54,674.00 L448.44,672.00 L449.38,670.00 L450.36,668.00 L451.36,666.00 L452.40,664.00 L453.47,662.00 L454.57,660.00 L455.71,658.00 L456.87,656.00 L458.06,654.00 L459.28,652.00 L460.53,650.00 L461.81,648.00 L463.11,646.00 L464.44,644.00 L465.79,642.00 L467.17,640.00 L468.57,638.00 L470.00,636.00 L471.44,634.00 L472.91,632.00 L474.39,630.00 L475.90,628.00 L477.42,626.00 L478.96,624.00 L480.52,622.00 L482.09,620.00 L483.68,618.00 L485.28,616.00 L486.89,614.00 L488.51,612.00 L490.15,610.00 L491.79,608.00 L493.44,606.00 L495.10,604.00 L496.77,602.00 L498.44,600.00 L500.11,598.00 L501.79,596.00 L503.47,594.00 L505.16,592.00 L506.85,590.00 L508.56,588.00 L510.27,586.00 L511.98,584.00 L513.68,582.00 L515.38,580.00 L517.08,578.00 L518.77,576.00 L520.46,574.00 L522.14,572.00 L523.82,570.00 L525.49,568.00 L527.15,566.00 L528.80,564.00 L530.44,562.00 L532.07,560.00 L533.70,558.00 L535.30,556.00 L536.90,554.00 L538.48,552.00 L540.05,550.00 L541.61,548.00 L543.14,546.00 L544.66,544.00 L546.17,542.00 L547.65,540.00 L549.11,538.00 L550.55,536.00 L551.97,534.00 L553.37,532.00 L554.74,530.00 L556.08,528.00 L557.40,526.00 L558.70,524.00 L559.96,522.00 L561.20,520.00 L562.40,518.00 L563.57,516.00 L564.71,514.00 L565.82,512.00 L566.89,510.00 L567.93,508.00 L568.93,506.00 L569.89,504.00 L570.81,502.00 L571.69,500.00 L572.54,498.00 L573.34,496.00 L574.10,494.00 L574.81,492.00 L575.49,490.00 L576.12,488.00 L576.70,486.00 L577.24,484.00 L577.73,482.00 L578.17,480.00 L578.57,478.00 L578.92,476.00 L579.22,474.00 L579.47,472.00 L579.68,470.00 L579.83,468.00 L579.93,466.00 L579.99,464.00 L580.00,462.00 L579.95,460.00 L579.86,458.00 L579.72,456.00 L579.53,454.00 L579.29,452.00 L579.00,450.00 L578.66,448.00 L578.28,446.00 L577.84,444.00 L577.36,442.00 L576.84,440.00 L576.27,438.00 L575.65,436.00 L574.99,434.00 L574.28,432.00 L573.53,430.00 L572.74,428.00 L571.91,426.00 L571.04,424.00 L570.12,422.00 L569.17,420.00 L568.18,418.00 L567.15,416.00 L566.09,414.00 L564.99,412.00 L563.86,410.00 L562.70,408.00 L561.50,406.00 L560.27,404.00 L559.02,402.00 L557.73,400.00 L556.42,398.00 L555.08,396.00 L553.71,394.00 L552.32,392.00 L550.91,390.00 L549.47,388.00 L548.02,386.00 L546.54,384.00 L545.04,382.00 L543.53,380.00 L541.99,378.00 L540.44,376.00 L538.88,374.00 L537.30,372.00 L535.71,370.00 L534.10,368.00 L532.48,366.00 L530.85,364.00 L529.21,362.00 L527.56,360.00 L525.90,358.00 L524.24,356.00 L522.56,354.00 L520.88,352.00 L519.19,350.00 L517.50,348.00 L515.81,346.00 L514.11,344.00 L512.40,342.00 L510.70,340.00 L508.99,338.00 L507.28,336.00 L505.58,334.00 L503.90,332.00 L502.21,330.00 L500.53,328.00 L498.86,326.00 L497.18,324.00 L495.52,322.00 L493.85,320.00 L492.20,318.00 L490.56,316.00 L488.92,314.00 L487.29,312.00 L485.68,310.00 L484.08,308.00 L482.49,306.00 L480.91,304.00 L479.35,302.00 L477.81,300.00 L476.28,298.00 L474.77,296.00 L473.28,294.00 L471.81,292.00 L470.36,290.00 L468.93,288.00 L467.52,286.00 L466.14,284.00 L464.78,282.00 L463.44,280.00 L462.13,278.00 L460.85,276.00 L459.59,274.00 L458.36,272.00 L457.16,270.00 L455.99,268.00 L454.85,266.00 L453.74,264.00 L452.66,262.00 L451.62,260.00 L450.60,258.00 L449.62,256.00 L448.68,254.00 L447.76,252.00 L446.89,250.00 L446.04,248.00 L445.24,246.00 L444.47,244.00 L443.74,242.00 L443.04,240.00 L442.38,238.00 L441.76,236.00 L441.18,234.00 L440.64,232.00 L440.14,230.00 L439.68,228.00 L439.25,226.00 L438.87,224.00 L438.53,222.00Z" fill="none" stroke="#fff" stroke-width="17.6" stroke-linejoin="round"/>
<path d="M555.47,222.00 L555.13,224.00 L554.75,226.00 L554.32,228.00 L553.86,230.00 L553.36,232.00 L552.82,234.00 L552.24,236.00 L551.62,238.00 L550.96,240.00 L550.26,242.00 L549.53,244.00 L548.76,246.00 L547.96,248.00 L547.11,250.00 L546.24,252.00 L545.32,254.00 L544.38,256.00 L543.40,258.00 L542.38,260.00 L541.34,262.00 L540.26,264.00 L539.15,266.00 L538.01,268.00 L536.84,270.00 L535.64,272.00 L534.41,274.00 L533.15,276.00 L531.87,278.00 L530.56,280.00 L529.22,282.00 L527.86,284.00 L526.48,286.00 L525.07,288.00 L523.64,290.00 L522.19,292.00 L520.72,294.00 L519.23,296.00 L517.72,298.00 L516.19,300.00 L514.65,302.00 L513.09,304.00 L511.51,306.00 L509.92,308.00 L508.32,310.00 L506.71,312.00 L505.08,314.00 L503.44,316.00 L501.80,318.00 L500.15,320.00 L498.48,322.00 L496.82,324.00 L495.14,326.00 L493.47,328.00 L491.79,330.00 L490.10,332.00 L488.42,334.00 L506.44,334.00 L508.21,332.00 L509.98,330.00 L511.75,328.00 L513.51,326.00 L515.27,324.00 L517.02,322.00 L518.76,320.00 L520.50,318.00 L522.23,316.00 L523.95,314.00 L525.66,312.00 L527.36,310.00 L529.04,308.00 L530.71,306.00 L532.37,304.00 L534.01,302.00 L535.63,300.00 L537.23,298.00 L538.82,296.00 L540.39,294.00 L541.93,292.00 L543.46,290.00 L544.96,288.00 L546.44,286.00 L547.89,284.00 L549.32,282.00 L550.73,280.00 L552.10,278.00 L553.45,276.00 L554.77,274.00 L556.06,272.00 L557.32,270.00 L558.55,268.00 L559.75,266.00 L560.92,264.00 L562.05,262.00 L563.15,260.00 L564.22,258.00 L565.25,256.00 L566.24,254.00 L567.20,252.00 L568.12,250.00 L569.01,248.00 L569.86,246.00 L570.66,244.00 L571.43,242.00 L572.16,240.00 L572.86,238.00 L573.51,236.00 L574.12,234.00 L574.69,232.00 L575.21,230.00 L575.70,228.00 L576.15,226.00 L576.55,224.00 L576.91,222.00Z" fill="none" stroke="#fff" stroke-width="22.6" stroke-linejoin="round"/>
<path d="M488.00,591.00 L489.68,593.00 L491.37,595.00 L493.05,597.00 L494.73,599.00 L496.40,601.00 L498.07,603.00 L499.73,605.00 L501.39,607.00 L503.03,609.00 L504.67,611.00 L506.30,613.00 L507.92,615.00 L509.53,617.00 L511.12,619.00 L512.70,621.00 L514.26,623.00 L515.81,625.00 L517.34,627.00 L518.85,629.00 L520.35,631.00 L521.83,633.00 L523.28,635.00 L524.72,637.00 L526.13,639.00 L527.52,641.00 L528.89,643.00 L530.23,645.00 L531.54,647.00 L532.83,649.00 L534.10,651.00 L535.33,653.00 L536.54,655.00 L537.72,657.00 L538.87,659.00 L539.98,661.00 L541.07,663.00 L542.12,665.00 L543.15,667.00 L544.13,669.00 L545.09,671.00 L546.01,673.00 L546.90,675.00 L547.75,677.00 L548.56,679.00 L549.34,681.00 L550.08,683.00 L550.79,685.00 L551.46,687.00 L552.09,689.00 L573.35,689.00 L572.69,687.00 L571.99,685.00 L571.25,683.00 L570.47,681.00 L569.65,679.00 L568.79,677.00 L567.90,675.00 L566.96,673.00 L566.00,671.00 L564.99,669.00 L563.95,667.00 L562.88,665.00 L561.77,663.00 L560.63,661.00 L559.45,659.00 L558.25,657.00 L557.01,655.00 L555.74,653.00 L554.44,651.00 L553.12,649.00 L551.76,647.00 L550.38,645.00 L548.97,643.00 L547.53,641.00 L546.07,639.00 L544.59,637.00 L543.08,635.00 L541.55,633.00 L540.00,631.00 L538.43,629.00 L536.83,627.00 L535.22,625.00 L533.60,623.00 L531.95,621.00 L530.29,619.00 L528.62,617.00 L526.93,615.00 L525.23,613.00 L523.52,611.00 L521.80,609.00 L520.07,607.00 L518.33,605.00 L516.58,603.00 L514.83,601.00 L513.07,599.00 L511.30,597.00 L509.54,595.00 L507.77,593.00 L506.00,591.00Z" fill="none" stroke="#fff" stroke-width="22.6" stroke-linejoin="round"/>
<path d="M417.09,222.00 L417.45,224.00 L417.85,226.00 L418.30,228.00 L418.79,230.00 L419.31,232.00 L419.88,234.00 L420.49,236.00 L421.14,238.00 L421.84,240.00 L422.57,242.00 L423.34,244.00 L424.14,246.00 L424.99,248.00 L425.88,250.00 L426.80,252.00 L427.76,254.00 L428.75,256.00 L429.78,258.00 L430.85,260.00 L431.95,262.00 L433.08,264.00 L434.25,266.00 L435.45,268.00 L436.68,270.00 L437.94,272.00 L439.23,274.00 L440.55,276.00 L441.90,278.00 L443.27,280.00 L444.68,282.00 L446.11,284.00 L447.56,286.00 L449.04,288.00 L450.54,290.00 L452.07,292.00 L453.61,294.00 L455.18,296.00 L456.77,298.00 L458.37,300.00 L459.99,302.00 L461.63,304.00 L463.29,306.00 L464.96,308.00 L466.64,310.00 L468.34,312.00 L470.05,314.00 L471.77,316.00 L473.50,318.00 L475.24,320.00 L476.98,322.00 L478.73,324.00 L480.49,326.00 L482.25,328.00 L484.02,330.00 L485.79,332.00 L487.56,334.00 L505.58,334.00 L503.90,332.00 L502.21,330.00 L500.53,328.00 L498.86,326.00 L497.18,324.00 L495.52,322.00 L493.85,320.00 L492.20,318.00 L490.56,316.00 L488.92,314.00 L487.29,312.00 L485.68,310.00 L484.08,308.00 L482.49,306.00 L480.91,304.00 L479.35,302.00 L477.81,300.00 L476.28,298.00 L474.77,296.00 L473.28,294.00 L471.81,292.00 L470.36,290.00 L468.93,288.00 L467.52,286.00 L466.14,284.00 L464.78,282.00 L463.44,280.00 L462.13,278.00 L460.85,276.00 L459.59,274.00 L458.36,272.00 L457.16,270.00 L455.99,268.00 L454.85,266.00 L453.74,264.00 L452.66,262.00 L451.62,260.00 L450.60,258.00 L449.62,256.00 L448.68,254.00 L447.76,252.00 L446.89,250.00 L446.04,248.00 L445.24,246.00 L444.47,244.00 L443.74,242.00 L443.04,240.00 L442.38,238.00 L441.76,236.00 L441.18,234.00 L440.64,232.00 L440.14,230.00 L439.68,228.00 L439.25,226.00 L438.87,224.00 L438.53,222.00Z" fill="none" stroke="#fff" stroke-width="22.6" stroke-linejoin="round"/>
<path d="M488.00,591.00 L486.23,593.00 L484.46,595.00 L482.70,597.00 L480.93,599.00 L479.17,601.00 L477.42,603.00 L475.67,605.00 L473.93,607.00 L472.20,609.00 L470.48,611.00 L468.77,613.00 L467.07,615.00 L465.38,617.00 L463.71,619.00 L462.05,621.00 L460.40,623.00 L458.78,625.00 L457.17,627.00 L455.57,629.00 L454.00,631.00 L452.45,633.00 L450.92,635.00 L449.41,637.00 L447.93,639.00 L446.47,641.00 L445.03,643.00 L443.62,645.00 L442.24,647.00 L440.88,649.00 L439.56,651.00 L438.26,653.00 L436.99,655.00 L435.75,657.00 L434.55,659.00 L433.37,661.00 L432.23,663.00 L431.12,665.00 L430.05,667.00 L429.01,669.00 L428.00,671.00 L427.04,673.00 L426.10,675.00 L425.21,677.00 L424.35,679.00 L423.53,681.00 L422.75,683.00 L422.01,685.00 L421.31,687.00 L420.65,689.00 L441.91,689.00 L442.54,687.00 L443.21,685.00 L443.92,683.00 L444.66,681.00 L445.44,679.00 L446.25,677.00 L447.10,675.00 L447.99,673.00 L448.91,671.00 L449.87,669.00 L450.85,667.00 L451.88,665.00 L452.93,663.00 L454.02,661.00 L455.13,659.00 L456.28,657.00 L457.46,655.00 L458.67,653.00 L459.90,651.00 L461.17,649.00 L462.46,647.00 L463.77,645.00 L465.11,643.00 L466.48,641.00 L467.87,639.00 L469.28,637.00 L470.72,635.00 L472.17,633.00 L473.65,631.00 L475.15,629.00 L476.66,627.00 L478.19,625.00 L479.74,623.00 L481.30,621.00 L482.88,619.00 L484.47,617.00 L486.08,615.00 L487.70,613.00 L489.33,611.00 L490.97,609.00 L492.61,607.00 L494.27,605.00 L495.93,603.00 L497.60,601.00 L499.27,599.00 L500.95,597.00 L502.63,595.00 L504.32,593.00 L506.00,591.00Z" fill="none" stroke="#fff" stroke-width="22.6" stroke-linejoin="round"/>
<path d="M555.47,222.00 L555.13,224.00 L554.75,226.00 L554.32,228.00 L553.86,230.00 L553.36,232.00 L552.82,234.00 L552.24,236.00 L551.62,238.00 L550.96,240.00 L550.26,242.00 L549.53,244.00 L548.76,246.00 L547.96,248.00 L547.11,250.00 L546.24,252.00 L545.32,254.00 L544.38,256.00 L543.40,258.00 L542.38,260.00 L541.34,262.00 L540.26,264.00 L539.15,266.00 L538.01,268.00 L536.84,270.00 L535.64,272.00 L534.41,274.00 L533.15,276.00 L531.87,278.00 L530.56,280.00 L529.22,282.00 L527.86,284.00 L526.48,286.00 L525.07,288.00 L523.64,290.00 L522.19,292.00 L520.72,294.00 L519.23,296.00 L517.72,298.00 L516.19,300.00 L514.65,302.00 L513.09,304.00 L511.51,306.00 L509.92,308.00 L508.32,310.00 L506.71,312.00 L505.08,314.00 L503.44,316.00 L501.80,318.00 L500.15,320.00 L498.48,322.00 L496.82,324.00 L495.14,326.00 L493.47,328.00 L491.79,330.00 L490.10,332.00 L488.42,334.00 L486.72,336.00 L485.01,338.00 L483.30,340.00 L481.60,342.00 L479.89,344.00 L478.19,346.00 L476.50,348.00 L474.81,350.00 L473.12,352.00 L471.44,354.00 L469.76,356.00 L468.10,358.00 L466.44,360.00 L464.79,362.00 L463.15,364.00 L461.52,366.00 L459.90,368.00 L458.29,370.00 L456.70,372.00 L455.12,374.00 L453.56,376.00 L452.01,378.00 L450.47,380.00 L448.96,382.00 L447.46,384.00 L445.98,386.00 L444.53,388.00 L443.09,390.00 L441.68,392.00 L440.29,394.00 L438.92,396.00 L437.58,398.00 L436.27,400.00 L434.98,402.00 L433.73,404.00 L432.50,406.00 L431.30,408.00 L430.14,410.00 L429.01,412.00 L427.91,414.00 L426.85,416.00 L425.82,418.00 L424.83,420.00 L423.88,422.00 L422.96,424.00 L422.09,426.00 L421.26,428.00 L420.47,430.00 L419.72,432.00 L419.01,434.00 L418.35,436.00 L417.73,438.00 L417.16,440.00 L416.64,442.00 L416.16,444.00 L415.72,446.00 L415.34,448.00 L415.00,450.00 L414.71,452.00 L414.47,454.00 L414.28,456.00 L414.14,458.00 L414.05,460.00 L414.00,462.00 L414.01,464.00 L414.07,466.00 L414.17,468.00 L414.32,470.00 L414.53,472.00 L414.78,474.00 L415.08,476.00 L415.43,478.00 L415.83,480.00 L416.27,482.00 L416.76,484.00 L417.30,486.00 L417.88,488.00 L418.51,490.00 L419.19,492.00 L419.90,494.00 L420.66,496.00 L421.46,498.00 L422.31,500.00 L423.19,502.00 L424.11,504.00 L425.07,506.00 L426.07,508.00 L427.11,510.00 L428.18,512.00 L429.29,514.00 L430.43,516.00 L431.60,518.00 L432.80,520.00 L434.04,522.00 L435.30,524.00 L436.60,526.00 L437.92,528.00 L439.26,530.00 L440.63,532.00 L442.03,534.00 L443.45,536.00 L444.89,538.00 L446.35,540.00 L447.83,542.00 L449.34,544.00 L450.86,546.00 L452.39,548.00 L453.95,550.00 L455.52,552.00 L457.10,554.00 L458.70,556.00 L460.30,558.00 L461.93,560.00 L463.56,562.00 L465.20,564.00 L466.85,566.00 L468.51,568.00 L470.18,570.00 L471.86,572.00 L473.54,574.00 L475.23,576.00 L476.92,578.00 L478.62,580.00 L480.32,582.00 L482.02,584.00 L483.73,586.00 L485.44,588.00 L487.15,590.00 L488.84,592.00 L490.53,594.00 L492.21,596.00 L493.89,598.00 L495.56,600.00 L497.23,602.00 L498.90,604.00 L500.56,606.00 L502.21,608.00 L503.85,610.00 L505.49,612.00 L507.11,614.00 L508.72,616.00 L510.32,618.00 L511.91,620.00 L513.48,622.00 L515.04,624.00 L516.58,626.00 L518.10,628.00 L519.61,630.00 L521.09,632.00 L522.56,634.00 L524.00,636.00 L525.43,638.00 L526.83,640.00 L528.21,642.00 L529.56,644.00 L530.89,646.00 L532.19,648.00 L533.47,650.00 L534.72,652.00 L535.94,654.00 L537.13,656.00 L538.29,658.00 L539.43,660.00 L540.53,662.00 L541.60,664.00 L542.64,666.00 L543.64,668.00 L544.62,670.00 L545.56,672.00 L546.46,674.00 L547.33,676.00 L548.16,678.00 L548.96,680.00 L549.72,682.00 L550.44,684.00 L551.13,686.00 L551.78,688.00 L552.39,690.00 L573.66,690.00 L573.02,688.00 L572.34,686.00 L571.62,684.00 L570.86,682.00 L570.06,680.00 L569.22,678.00 L568.35,676.00 L567.44,674.00 L566.49,672.00 L565.50,670.00 L564.48,668.00 L563.42,666.00 L562.33,664.00 L561.20,662.00 L560.05,660.00 L558.86,658.00 L557.63,656.00 L556.38,654.00 L555.10,652.00 L553.78,650.00 L552.44,648.00 L551.07,646.00 L549.68,644.00 L548.25,642.00 L546.80,640.00 L545.33,638.00 L543.84,636.00 L542.32,634.00 L540.78,632.00 L539.21,630.00 L537.63,628.00 L536.03,626.00 L534.41,624.00 L532.78,622.00 L531.13,620.00 L529.46,618.00 L527.78,616.00 L526.08,614.00 L524.38,612.00 L522.66,610.00 L520.94,608.00 L519.20,606.00 L517.46,604.00 L515.70,602.00 L513.95,600.00 L512.19,598.00 L510.42,596.00 L508.65,594.00 L506.88,592.00 L505.23,590.00 L503.69,588.00 L502.16,586.00 L500.62,584.00 L499.09,582.00 L497.56,580.00 L496.03,578.00 L494.51,576.00 L492.99,574.00 L491.47,572.00 L489.96,570.00 L488.46,568.00 L486.96,566.00 L485.47,564.00 L483.99,562.00 L482.52,560.00 L481.06,558.00 L479.60,556.00 L478.16,554.00 L476.73,552.00 L475.32,550.00 L473.91,548.00 L472.52,546.00 L471.15,544.00 L469.79,542.00 L468.45,540.00 L467.12,538.00 L465.82,536.00 L464.53,534.00 L463.26,532.00 L462.02,530.00 L460.80,528.00 L459.60,526.00 L458.42,524.00 L457.27,522.00 L456.15,520.00 L455.06,518.00 L453.99,516.00 L452.95,514.00 L451.95,512.00 L450.97,510.00 L450.03,508.00 L449.11,506.00 L448.24,504.00 L447.40,502.00 L446.59,500.00 L445.82,498.00 L445.09,496.00 L444.40,494.00 L443.74,492.00 L443.13,490.00 L442.55,488.00 L442.02,486.00 L441.53,484.00 L441.08,482.00 L440.67,480.00 L440.31,478.00 L439.99,476.00 L439.71,474.00 L439.48,472.00 L439.30,470.00 L439.16,468.00 L439.06,466.00 L439.01,464.00 L439.00,462.00 L439.04,460.00 L439.13,458.00 L439.26,456.00 L439.43,454.00 L439.65,452.00 L439.92,450.00 L440.22,448.00 L440.58,446.00 L440.97,444.00 L441.41,442.00 L441.89,440.00 L442.41,438.00 L442.98,436.00 L443.58,434.00 L444.23,432.00 L444.91,430.00 L445.63,428.00 L446.39,426.00 L447.19,424.00 L448.02,422.00 L448.89,420.00 L449.79,418.00 L450.73,416.00 L451.70,414.00 L452.70,412.00 L453.73,410.00 L454.79,408.00 L455.88,406.00 L456.99,404.00 L458.13,402.00 L459.30,400.00 L460.49,398.00 L461.71,396.00 L462.95,394.00 L464.21,392.00 L465.49,390.00 L466.79,388.00 L468.11,386.00 L469.45,384.00 L470.81,382.00 L472.18,380.00 L473.56,378.00 L474.96,376.00 L476.38,374.00 L477.80,372.00 L479.24,370.00 L480.69,368.00 L482.15,366.00 L483.62,364.00 L485.10,362.00 L486.59,360.00 L488.08,358.00 L489.59,356.00 L491.09,354.00 L492.61,352.00 L494.13,350.00 L495.65,348.00 L497.18,346.00 L498.71,344.00 L500.24,342.00 L501.77,340.00 L503.31,338.00 L504.85,336.00 L506.44,334.00 L508.21,332.00 L509.98,330.00 L511.75,328.00 L513.51,326.00 L515.27,324.00 L517.02,322.00 L518.76,320.00 L520.50,318.00 L522.23,316.00 L523.95,314.00 L525.66,312.00 L527.36,310.00 L529.04,308.00 L530.71,306.00 L532.37,304.00 L534.01,302.00 L535.63,300.00 L537.23,298.00 L538.82,296.00 L540.39,294.00 L541.93,292.00 L543.46,290.00 L544.96,288.00 L546.44,286.00 L547.89,284.00 L549.32,282.00 L550.73,280.00 L552.10,278.00 L553.45,276.00 L554.77,274.00 L556.06,272.00 L557.32,270.00 L558.55,268.00 L559.75,266.00 L560.92,264.00 L562.05,262.00 L563.15,260.00 L564.22,258.00 L565.25,256.00 L566.24,254.00 L567.20,252.00 L568.12,250.00 L569.01,248.00 L569.86,246.00 L570.66,244.00 L571.43,242.00 L572.16,240.00 L572.86,238.00 L573.51,236.00 L574.12,234.00 L574.69,232.00 L575.21,230.00 L575.70,228.00 L576.15,226.00 L576.55,224.00 L576.91,222.00Z" fill="#c8c8c8"/>
<path d="M417.09,222.00 L417.45,224.00 L417.85,226.00 L418.30,228.00 L418.79,230.00 L419.31,232.00 L419.88,234.00 L420.49,236.00 L421.14,238.00 L421.84,240.00 L422.57,242.00 L423.34,244.00 L424.14,246.00 L424.99,248.00 L425.88,250.00 L426.80,252.00 L427.76,254.00 L428.75,256.00 L429.78,258.00 L430.85,260.00 L431.95,262.00 L433.08,264.00 L434.25,266.00 L435.45,268.00 L436.68,270.00 L437.94,272.00 L439.23,274.00 L440.55,276.00 L441.90,278.00 L443.27,280.00 L444.68,282.00 L446.11,284.00 L447.56,286.00 L449.04,288.00 L450.54,290.00 L452.07,292.00 L453.61,294.00 L455.18,296.00 L456.77,298.00 L458.37,300.00 L459.99,302.00 L461.63,304.00 L463.29,306.00 L464.96,308.00 L466.64,310.00 L468.34,312.00 L470.05,314.00 L471.77,316.00 L473.50,318.00 L475.24,320.00 L476.98,322.00 L478.73,324.00 L480.49,326.00 L482.25,328.00 L484.02,330.00 L485.79,332.00 L487.56,334.00 L489.15,336.00 L490.69,338.00 L492.23,340.00 L493.76,342.00 L495.29,344.00 L496.82,346.00 L498.35,348.00 L499.87,350.00 L501.39,352.00 L502.91,354.00 L504.41,356.00 L505.92,358.00 L507.41,360.00 L508.90,362.00 L510.38,364.00 L511.85,366.00 L513.31,368.00 L514.76,370.00 L516.20,372.00 L517.62,374.00 L519.04,376.00 L520.44,378.00 L521.82,380.00 L523.19,382.00 L524.55,384.00 L525.89,386.00 L527.21,388.00 L528.51,390.00 L529.79,392.00 L531.05,394.00 L532.29,396.00 L533.51,398.00 L534.70,400.00 L535.87,402.00 L537.01,404.00 L538.12,406.00 L539.21,408.00 L540.27,410.00 L541.30,412.00 L542.30,414.00 L543.27,416.00 L544.21,418.00 L545.11,420.00 L545.98,422.00 L546.81,424.00 L547.61,426.00 L548.37,428.00 L549.09,430.00 L549.77,432.00 L550.42,434.00 L551.02,436.00 L551.59,438.00 L552.11,440.00 L552.59,442.00 L553.03,444.00 L553.42,446.00 L553.78,448.00 L554.08,450.00 L554.35,452.00 L554.57,454.00 L554.74,456.00 L554.87,458.00 L554.96,460.00 L555.00,462.00 L554.99,464.00 L554.94,466.00 L554.84,468.00 L554.70,470.00 L554.52,472.00 L554.29,474.00 L554.01,476.00 L553.69,478.00 L553.33,480.00 L552.92,482.00 L552.47,484.00 L551.98,486.00 L551.45,488.00 L550.87,490.00 L550.26,492.00 L549.60,494.00 L548.91,496.00 L548.18,498.00 L547.41,500.00 L546.60,502.00 L545.76,504.00 L544.89,506.00 L543.97,508.00 L543.03,510.00 L542.05,512.00 L541.05,514.00 L540.01,516.00 L538.94,518.00 L537.85,520.00 L536.73,522.00 L535.58,524.00 L534.40,526.00 L533.20,528.00 L531.98,530.00 L530.74,532.00 L529.47,534.00 L528.18,536.00 L526.88,538.00 L525.55,540.00 L524.21,542.00 L522.85,544.00 L521.48,546.00 L520.09,548.00 L518.68,550.00 L517.27,552.00 L515.84,554.00 L514.40,556.00 L512.94,558.00 L511.48,560.00 L510.01,562.00 L508.53,564.00 L507.04,566.00 L505.54,568.00 L504.04,570.00 L502.53,572.00 L501.01,574.00 L499.49,576.00 L497.97,578.00 L496.44,580.00 L494.91,582.00 L493.38,584.00 L491.84,586.00 L490.31,588.00 L488.77,590.00 L487.12,592.00 L485.35,594.00 L483.58,596.00 L481.81,598.00 L480.05,600.00 L478.30,602.00 L476.54,604.00 L474.80,606.00 L473.06,608.00 L471.34,610.00 L469.62,612.00 L467.92,614.00 L466.22,616.00 L464.54,618.00 L462.87,620.00 L461.22,622.00 L459.59,624.00 L457.97,626.00 L456.37,628.00 L454.79,630.00 L453.22,632.00 L451.68,634.00 L450.16,636.00 L448.67,638.00 L447.20,640.00 L445.75,642.00 L444.32,644.00 L442.93,646.00 L441.56,648.00 L440.22,650.00 L438.90,652.00 L437.62,654.00 L436.37,656.00 L435.14,658.00 L433.95,660.00 L432.80,662.00 L431.67,664.00 L430.58,666.00 L429.52,668.00 L428.50,670.00 L427.51,672.00 L426.56,674.00 L425.65,676.00 L424.78,678.00 L423.94,680.00 L423.14,682.00 L422.38,684.00 L421.66,686.00 L420.98,688.00 L420.34,690.00 L441.61,690.00 L442.22,688.00 L442.87,686.00 L443.56,684.00 L444.28,682.00 L445.04,680.00 L445.84,678.00 L446.67,676.00 L447.54,674.00 L448.44,672.00 L449.38,670.00 L450.36,668.00 L451.36,666.00 L452.40,664.00 L453.47,662.00 L454.57,660.00 L455.71,658.00 L456.87,656.00 L458.06,654.00 L459.28,652.00 L460.53,650.00 L461.81,648.00 L463.11,646.00 L464.44,644.00 L465.79,642.00 L467.17,640.00 L468.57,638.00 L470.00,636.00 L471.44,634.00 L472.91,632.00 L474.39,630.00 L475.90,628.00 L477.42,626.00 L478.96,624.00 L480.52,622.00 L482.09,620.00 L483.68,618.00 L485.28,616.00 L486.89,614.00 L488.51,612.00 L490.15,610.00 L491.79,608.00 L493.44,606.00 L495.10,604.00 L496.77,602.00 L498.44,600.00 L500.11,598.00 L501.79,596.00 L503.47,594.00 L505.16,592.00 L506.85,590.00 L508.56,588.00 L510.27,586.00 L511.98,584.00 L513.68,582.00 L515.38,580.00 L517.08,578.00 L518.77,576.00 L520.46,574.00 L522.14,572.00 L523.82,570.00 L525.49,568.00 L527.15,566.00 L528.80,564.00 L530.44,562.00 L532.07,560.00 L533.70,558.00 L535.30,556.00 L536.90,554.00 L538.48,552.00 L540.05,550.00 L541.61,548.00 L543.14,546.00 L544.66,544.00 L546.17,542.00 L547.65,540.00 L549.11,538.00 L550.55,536.00 L551.97,534.00 L553.37,532.00 L554.74,530.00 L556.08,528.00 L557.40,526.00 L558.70,524.00 L559.96,522.00 L561.20,520.00 L562.40,518.00 L563.57,516.00 L564.71,514.00 L565.82,512.00 L566.89,510.00 L567.93,508.00 L568.93,506.00 L569.89,504.00 L570.81,502.00 L571.69,500.00 L572.54,498.00 L573.34,496.00 L574.10,494.00 L574.81,492.00 L575.49,490.00 L576.12,488.00 L576.70,486.00 L577.24,484.00 L577.73,482.00 L578.17,480.00 L578.57,478.00 L578.92,476.00 L579.22,474.00 L579.47,472.00 L579.68,470.00 L579.83,468.00 L579.93,466.00 L579.99,464.00 L580.00,462.00 L579.95,460.00 L579.86,458.00 L579.72,456.00 L579.53,454.00 L579.29,452.00 L579.00,450.00 L578.66,448.00 L578.28,446.00 L577.84,444.00 L577.36,442.00 L576.84,440.00 L576.27,438.00 L575.65,436.00 L574.99,434.00 L574.28,432.00 L573.53,430.00 L572.74,428.00 L571.91,426.00 L571.04,424.00 L570.12,422.00 L569.17,420.00 L568.18,418.00 L567.15,416.00 L566.09,414.00 L564.99,412.00 L563.86,410.00 L562.70,408.00 L561.50,406.00 L560.27,404.00 L559.02,402.00 L557.73,400.00 L556.42,398.00 L555.08,396.00 L553.71,394.00 L552.32,392.00 L550.91,390.00 L549.47,388.00 L548.02,386.00 L546.54,384.00 L545.04,382.00 L543.53,380.00 L541.99,378.00 L540.44,376.00 L538.88,374.00 L537.30,372.00 L535.71,370.00 L534.10,368.00 L532.48,366.00 L530.85,364.00 L529.21,362.00 L527.56,360.00 L525.90,358.00 L524.24,356.00 L522.56,354.00 L520.88,352.00 L519.19,350.00 L517.50,348.00 L515.81,346.00 L514.11,344.00 L512.40,342.00 L510.70,340.00 L508.99,338.00 L507.28,336.00 L505.58,334.00 L503.90,332.00 L502.21,330.00 L500.53,328.00 L498.86,326.00 L497.18,324.00 L495.52,322.00 L493.85,320.00 L492.20,318.00 L490.56,316.00 L488.92,314.00 L487.29,312.00 L485.68,310.00 L484.08,308.00 L482.49,306.00 L480.91,304.00 L479.35,302.00 L477.81,300.00 L476.28,298.00 L474.77,296.00 L473.28,294.00 L471.81,292.00 L470.36,290.00 L468.93,288.00 L467.52,286.00 L466.14,284.00 L464.78,282.00 L463.44,280.00 L462.13,278.00 L460.85,276.00 L459.59,274.00 L458.36,272.00 L457.16,270.00 L455.99,268.00 L454.85,266.00 L453.74,264.00 L452.66,262.00 L451.62,260.00 L450.60,258.00 L449.62,256.00 L448.68,254.00 L447.76,252.00 L446.89,250.00 L446.04,248.00 L445.24,246.00 L444.47,244.00 L443.74,242.00 L443.04,240.00 L442.38,238.00 L441.76,236.00 L441.18,234.00 L440.64,232.00 L440.14,230.00 L439.68,228.00 L439.25,226.00 L438.87,224.00 L438.53,222.00Z" fill="#c8c8c8"/>
<path d="M450.16,289.50 L451.68,291.50 L453.22,293.50 L454.79,295.50 L456.37,297.50 L457.97,299.50 L459.59,301.50 L461.22,303.50 L462.87,305.50 L464.54,307.50 L466.22,309.50 L467.92,311.50 L469.62,313.50 L471.34,315.50 L473.06,317.50 L474.80,319.50 L476.54,321.50 L478.30,323.50 L480.05,325.50 L481.81,327.50 L483.58,329.50 L485.35,331.50 L487.12,333.50 L488.77,335.50 L490.31,337.50 L491.84,339.50 L493.38,341.50 L494.91,343.50 L496.44,345.50 L497.97,347.50 L499.49,349.50 L501.01,351.50 L502.53,353.50 L504.04,355.50 L505.54,357.50 L507.04,359.50 L508.53,361.50 L510.01,363.50 L511.48,365.50 L512.94,367.50 L514.40,369.50 L515.84,371.50 L517.27,373.50 L518.68,375.50 L520.09,377.50 L521.48,379.50 L543.14,379.50 L541.61,377.50 L540.05,375.50 L538.48,373.50 L536.90,371.50 L535.30,369.50 L533.70,367.50 L532.07,365.50 L530.44,363.50 L528.80,361.50 L527.15,359.50 L525.49,357.50 L523.82,355.50 L522.14,353.50 L520.46,351.50 L518.77,349.50 L517.08,347.50 L515.38,345.50 L513.68,343.50 L511.98,341.50 L510.27,339.50 L508.56,337.50 L506.85,335.50 L505.16,333.50 L503.47,331.50 L501.79,329.50 L500.11,327.50 L498.44,325.50 L496.77,323.50 L495.10,321.50 L493.44,319.50 L491.79,317.50 L490.15,315.50 L488.51,313.50 L486.89,311.50 L485.28,309.50 L483.68,307.50 L482.09,305.50 L480.52,303.50 L478.96,301.50 L477.42,299.50 L475.90,297.50 L474.39,295.50 L472.91,293.50 L471.44,291.50 L470.00,289.50Z" fill="none" stroke="#fff" stroke-width="16.0" stroke-linejoin="round"/>
<path d="M439.56,274.50 L440.88,276.50 L442.24,278.50 L443.62,280.50 L445.03,282.50 L446.47,284.50 L447.93,286.50 L449.41,288.50 L450.92,290.50 L452.45,292.50 L454.00,294.50 L455.57,296.50 L457.17,298.50 L458.78,300.50 L460.40,302.50 L462.05,304.50 L463.71,306.50 L465.38,308.50 L467.07,310.50 L468.77,312.50 L470.48,314.50 L472.20,316.50 L473.93,318.50 L475.67,320.50 L477.42,322.50 L479.17,324.50 L480.93,326.50 L482.70,328.50 L484.46,330.50 L486.23,332.50 L488.00,334.50 L489.54,336.50 L491.07,338.50 L492.61,340.50 L494.14,342.50 L495.68,344.50 L497.21,346.50 L498.73,348.50 L500.25,350.50 L501.77,352.50 L503.28,354.50 L504.79,356.50 L506.29,358.50 L507.78,360.50 L509.27,362.50 L510.74,364.50 L512.21,366.50 L513.67,368.50 L515.12,370.50 L516.55,372.50 L517.98,374.50 L519.39,376.50 L520.79,378.50 L522.17,380.50 L523.53,382.50 L524.89,384.50 L526.22,386.50 L527.53,388.50 L528.83,390.50 L530.11,392.50 L531.36,394.50 L554.06,394.50 L552.67,392.50 L551.26,390.50 L549.83,388.50 L548.38,386.50 L546.91,384.50 L545.42,382.50 L543.91,380.50 L542.38,378.50 L540.83,376.50 L539.27,374.50 L537.70,372.50 L536.10,370.50 L534.50,368.50 L532.89,366.50 L531.26,364.50 L529.62,362.50 L527.97,360.50 L526.32,358.50 L524.65,356.50 L522.98,354.50 L521.30,352.50 L519.62,350.50 L517.93,348.50 L516.23,346.50 L514.53,344.50 L512.83,342.50 L511.12,340.50 L509.42,338.50 L507.71,336.50 L506.00,334.50 L504.32,332.50 L502.63,330.50 L500.95,328.50 L499.27,326.50 L497.60,324.50 L495.93,322.50 L494.27,320.50 L492.61,318.50 L490.97,316.50 L489.33,314.50 L487.70,312.50 L486.08,310.50 L484.47,308.50 L482.88,306.50 L481.30,304.50 L479.74,302.50 L478.19,300.50 L476.66,298.50 L475.15,296.50 L473.65,294.50 L472.17,292.50 L470.72,290.50 L469.28,288.50 L467.87,286.50 L466.48,284.50 L465.11,282.50 L463.77,280.50 L462.46,278.50 L461.17,276.50 L459.90,274.50Z" fill="#c8c8c8"/>
<path d="M450.86,546.00 L452.39,548.00 L453.95,550.00 L455.52,552.00 L457.10,554.00 L458.70,556.00 L460.30,558.00 L461.93,560.00 L463.56,562.00 L465.20,564.00 L466.85,566.00 L468.51,568.00 L470.18,570.00 L471.86,572.00 L473.54,574.00 L475.23,576.00 L476.92,578.00 L478.62,580.00 L480.32,582.00 L482.02,584.00 L483.73,586.00 L485.44,588.00 L487.15,590.00 L488.84,592.00 L490.53,594.00 L492.21,596.00 L493.89,598.00 L495.56,600.00 L497.23,602.00 L498.90,604.00 L500.56,606.00 L502.21,608.00 L503.85,610.00 L505.49,612.00 L507.11,614.00 L508.72,616.00 L510.32,618.00 L511.91,620.00 L513.48,622.00 L515.04,624.00 L516.58,626.00 L518.10,628.00 L519.61,630.00 L521.09,632.00 L522.56,634.00 L524.00,636.00 L543.84,636.00 L542.32,634.00 L540.78,632.00 L539.21,630.00 L537.63,628.00 L536.03,626.00 L534.41,624.00 L532.78,622.00 L531.13,620.00 L529.46,618.00 L527.78,616.00 L526.08,614.00 L524.38,612.00 L522.66,610.00 L520.94,608.00 L519.20,606.00 L517.46,604.00 L515.70,602.00 L513.95,600.00 L512.19,598.00 L510.42,596.00 L508.65,594.00 L506.88,592.00 L505.23,590.00 L503.69,588.00 L502.16,586.00 L500.62,584.00 L499.09,582.00 L497.56,580.00 L496.03,578.00 L494.51,576.00 L492.99,574.00 L491.47,572.00 L489.96,570.00 L488.46,568.00 L486.96,566.00 L485.47,564.00 L483.99,562.00 L482.52,560.00 L481.06,558.00 L479.60,556.00 L478.16,554.00 L476.73,552.00 L475.32,550.00 L473.91,548.00 L472.52,546.00Z" fill="none" stroke="#fff" stroke-width="16.0" stroke-linejoin="round"/>
<path d="M439.94,531.00 L441.33,533.00 L442.74,535.00 L444.17,537.00 L445.62,539.00 L447.09,541.00 L448.58,543.00 L450.09,545.00 L451.62,547.00 L453.17,549.00 L454.73,551.00 L456.30,553.00 L457.90,555.00 L459.50,557.00 L461.11,559.00 L462.74,561.00 L464.38,563.00 L466.03,565.00 L467.68,567.00 L469.35,569.00 L471.02,571.00 L472.70,573.00 L474.38,575.00 L476.07,577.00 L477.77,579.00 L479.47,581.00 L481.17,583.00 L482.88,585.00 L484.58,587.00 L486.29,589.00 L488.00,591.00 L489.68,593.00 L491.37,595.00 L493.05,597.00 L494.73,599.00 L496.40,601.00 L498.07,603.00 L499.73,605.00 L501.39,607.00 L503.03,609.00 L504.67,611.00 L506.30,613.00 L507.92,615.00 L509.53,617.00 L511.12,619.00 L512.70,621.00 L514.26,623.00 L515.81,625.00 L517.34,627.00 L518.85,629.00 L520.35,631.00 L521.83,633.00 L523.28,635.00 L524.72,637.00 L526.13,639.00 L527.52,641.00 L528.89,643.00 L530.23,645.00 L531.54,647.00 L532.83,649.00 L534.10,651.00 L554.44,651.00 L553.12,649.00 L551.76,647.00 L550.38,645.00 L548.97,643.00 L547.53,641.00 L546.07,639.00 L544.59,637.00 L543.08,635.00 L541.55,633.00 L540.00,631.00 L538.43,629.00 L536.83,627.00 L535.22,625.00 L533.60,623.00 L531.95,621.00 L530.29,619.00 L528.62,617.00 L526.93,615.00 L525.23,613.00 L523.52,611.00 L521.80,609.00 L520.07,607.00 L518.33,605.00 L516.58,603.00 L514.83,601.00 L513.07,599.00 L511.30,597.00 L509.54,595.00 L507.77,593.00 L506.00,591.00 L504.46,589.00 L502.93,587.00 L501.39,585.00 L499.86,583.00 L498.32,581.00 L496.79,579.00 L495.27,577.00 L493.75,575.00 L492.23,573.00 L490.72,571.00 L489.21,569.00 L487.71,567.00 L486.22,565.00 L484.73,563.00 L483.26,561.00 L481.79,559.00 L480.33,557.00 L478.88,555.00 L477.45,553.00 L476.02,551.00 L474.61,549.00 L473.21,547.00 L471.83,545.00 L470.47,543.00 L469.11,541.00 L467.78,539.00 L466.47,537.00 L465.17,535.00 L463.89,533.00 L462.64,531.00Z" fill="#c8c8c8"/>
<circle cx="568.50" cy="334.50" r="8.2" fill="#c8c8c8"/>
<circle cx="442.60" cy="367.60" r="7" fill="#c8c8c8"/>
<circle cx="417.20" cy="399.90" r="7" fill="#c8c8c8"/>
<circle cx="588.50" cy="395.50" r="11.4" fill="#c8c8c8"/>
<circle cx="406.00" cy="430.40" r="7.2" fill="#c8c8c8"/>
<circle cx="402.60" cy="471.50" r="7.5" fill="#c8c8c8"/>
<circle cx="598.50" cy="475.00" r="11" fill="#c8c8c8"/>
<circle cx="413.70" cy="514.30" r="7" fill="#c8c8c8"/>
<circle cx="431.80" cy="544.40" r="7" fill="#c8c8c8"/>
<circle cx="572.00" cy="543.00" r="11" fill="#c8c8c8"/>
<circle cx="460.80" cy="577.50" r="7.5" fill="#c8c8c8"/>
<circle cx="531.50" cy="586.80" r="11" fill="#c8c8c8"/>
<rect x="100" y="200" width="560" height="26" fill="#fff"/><rect x="100" y="226" width="560" height="102" fill="url(#ft)"/>
<rect x="100" y="590" width="560" height="100" fill="url(#fb)"/><rect x="100" y="690" width="560" height="30" fill="#fff"/>
<g stroke="#111" stroke-width="2" fill="none">
<circle cx="496.3" cy="509.1" r="34.9"/>
<circle cx="497.1" cy="509.5" r="25"/>
<line x1="496.5" y1="468" x2="496.5" y2="549.5"/>
<line x1="453.5" y1="509.2" x2="582.5" y2="509.2"/>
</g>
</svg>
<div class="t" id="title">PRINCIPLE OF STERILIZATION AND DISINFECTION</div>
<div class="t p" style="top:57px">The ultraviolet disinfection table lamp mainly acts on the DNA, of microorgan-</div>
<div class="t p" style="top:83px">isms to destroy the DNA, structure, making it lose the function of reproduction</div>
<div class="t p" style="top:108px">and self-replication, so as to achieve the purpose of sterilization and disinfection.</div>
<div class="t p" style="top:131px;left:-1px">It is suitable for use in spaces of &lt; 40<span style="display:inline-block;transform:scale(0.72,1.12);transform-origin:50% 15.3px;width:10px;text-align:center;margin-left:1px">m</span><sup style="font-size:6.5px;vertical-align:7px;margin-left:1px">2</sup><span style="margin-left:0.3px">.</span></div>
<div class="lab" style="left:170.7px;top:693px">Before irradiation</div>
<div class="lab" style="left:441.8px;top:693.3px">After irradiation</div>
<div class="lab" style="left:560px;top:513px;font-size:15.3px">DNA strand break</div>
</body></html>
